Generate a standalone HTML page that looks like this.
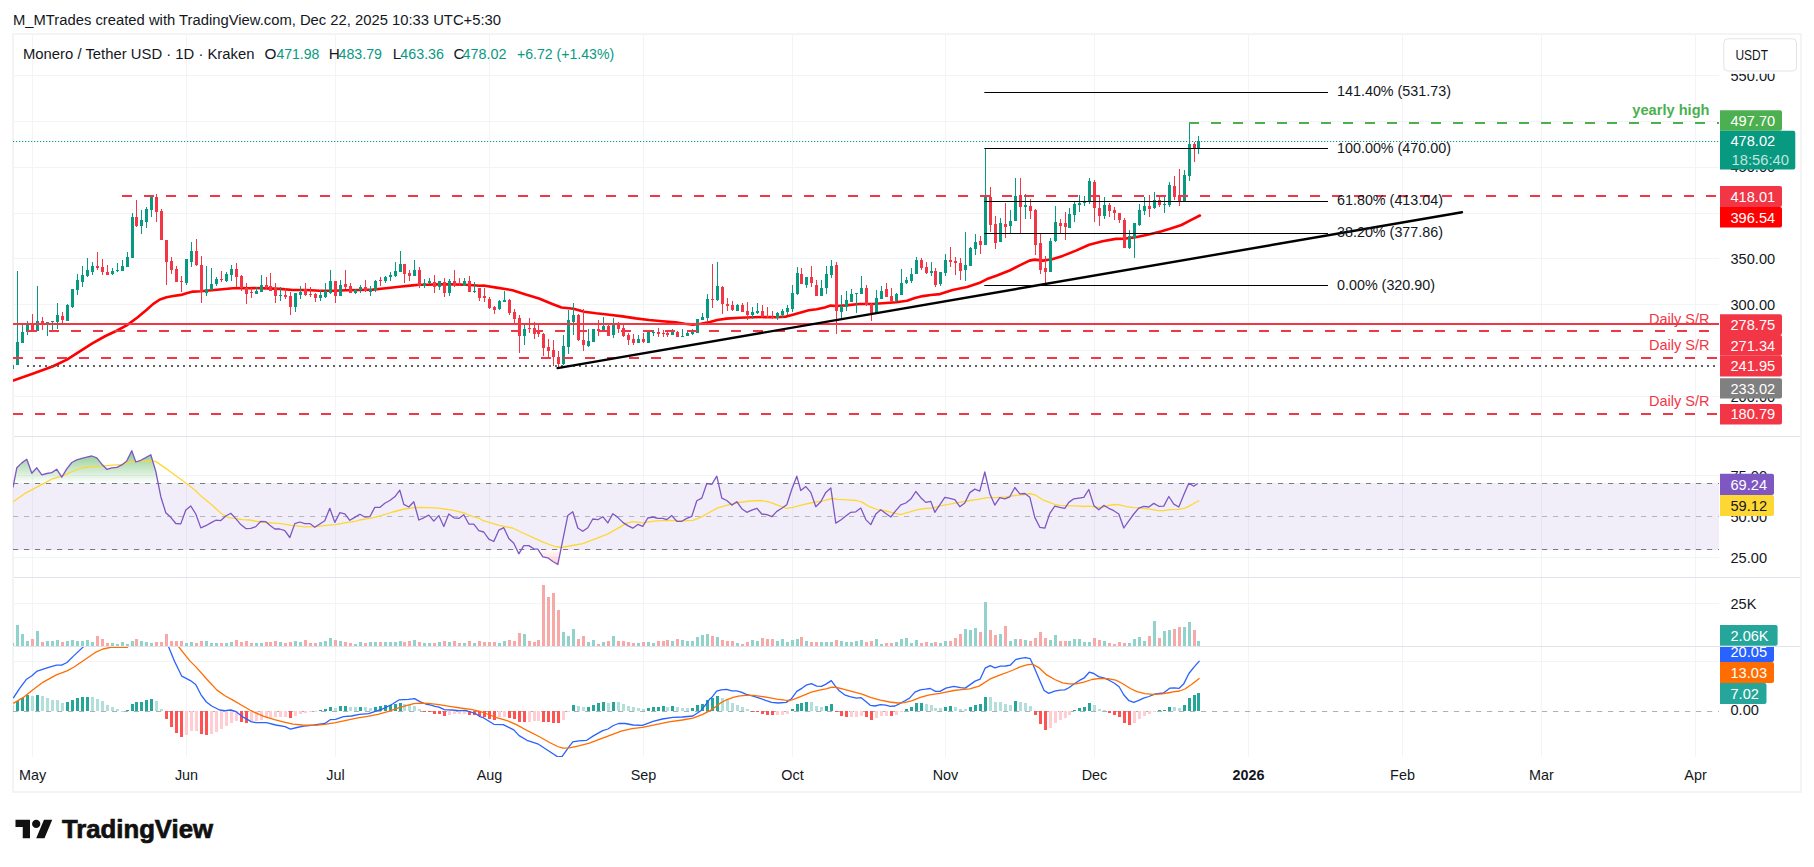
<!DOCTYPE html><html><head><meta charset="utf-8"><title>chart</title><style>html,body{margin:0;padding:0;background:#fff}body{width:1814px;height:867px;overflow:hidden}</style></head><body><svg width="1814" height="867" viewBox="0 0 1814 867" style="display:block">
<defs>
<linearGradient id="gob" gradientUnits="userSpaceOnUse" x1="0" y1="434.3" x2="0" y2="483.5"><stop offset="0" stop-color="#4caf50" stop-opacity="1"/><stop offset="1" stop-color="#4caf50" stop-opacity="0"/></linearGradient>
<linearGradient id="gos" gradientUnits="userSpaceOnUse" x1="0" y1="549.4" x2="0" y2="598.7"><stop offset="0" stop-color="#ff5252" stop-opacity="0"/><stop offset="1" stop-color="#ff5252" stop-opacity="1"/></linearGradient>
<clipPath id="cpP"><rect x="13" y="35" width="1706" height="401"/></clipPath>
<clipPath id="cpR"><rect x="13" y="437" width="1706" height="140"/></clipPath>
<clipPath id="cpV"><rect x="13" y="578" width="1706" height="68"/></clipPath>
<clipPath id="cpM"><rect x="13" y="647" width="1706" height="110"/></clipPath>
<clipPath id="cpOB"><rect x="0" y="430" width="1814" height="53.5"/></clipPath>
<clipPath id="cpOS"><rect x="0" y="549.4" width="1814" height="40"/></clipPath>
<clipPath id="cpAx"><rect x="1719" y="647" width="90" height="110"/></clipPath>
</defs>
<rect width="1814" height="867" fill="#fff"/>
<rect x="13" y="34" width="1788" height="758" fill="none" stroke="#f4f4f4" stroke-width="2"/>
<rect x="32" y="34" width="1" height="723" fill="#f2f4f5"/>
<rect x="186" y="34" width="1" height="723" fill="#f2f4f5"/>
<rect x="335" y="34" width="1" height="723" fill="#f2f4f5"/>
<rect x="489" y="34" width="1" height="723" fill="#f2f4f5"/>
<rect x="643" y="34" width="1" height="723" fill="#f2f4f5"/>
<rect x="792" y="34" width="1" height="723" fill="#f2f4f5"/>
<rect x="945" y="34" width="1" height="723" fill="#f2f4f5"/>
<rect x="1094" y="34" width="1" height="723" fill="#f2f4f5"/>
<rect x="1248" y="34" width="1" height="723" fill="#f2f4f5"/>
<rect x="1402" y="34" width="1" height="723" fill="#f2f4f5"/>
<rect x="1541" y="34" width="1" height="723" fill="#f2f4f5"/>
<rect x="1695" y="34" width="1" height="723" fill="#f2f4f5"/>
<rect x="13" y="75" width="1706" height="1" fill="#f2f4f5"/>
<rect x="13" y="121" width="1706" height="1" fill="#f2f4f5"/>
<rect x="13" y="167" width="1706" height="1" fill="#f2f4f5"/>
<rect x="13" y="213" width="1706" height="1" fill="#f2f4f5"/>
<rect x="13" y="258" width="1706" height="1" fill="#f2f4f5"/>
<rect x="13" y="304" width="1706" height="1" fill="#f2f4f5"/>
<rect x="13" y="350" width="1706" height="1" fill="#f2f4f5"/>
<rect x="13" y="396" width="1706" height="1" fill="#f2f4f5"/>
<rect x="13" y="475" width="1706" height="1" fill="#f2f4f5"/>
<rect x="13" y="557" width="1706" height="1" fill="#f2f4f5"/>
<rect x="13" y="603" width="1706" height="1" fill="#f2f4f5"/>
<rect x="13" y="661" width="1706" height="1" fill="#f2f4f5"/>
<rect x="13" y="483" width="1706" height="67" fill="#7e57c2" fill-opacity="0.1"/>
<path d="M13.0,487.4 L16.8,467.8 L21.8,462.9 L26.8,459.3 L31.8,473.3 L36.8,467.8 L41.8,474.9 L46.8,473.5 L51.8,472.6 L56.8,469.3 L61.8,477.2 L66.8,468.9 L71.8,462.5 L76.8,459.9 L81.8,458.3 L86.8,457.2 L91.8,456.0 L96.8,457.9 L101.8,464.2 L106.8,469.3 L111.8,467.8 L116.8,467.3 L121.8,464.9 L126.8,460.9 L131.8,450.7 L135.8,462.0 L140.8,460.3 L145.8,457.6 L150.8,454.7 L155.8,471.5 L160.8,496.7 L165.8,512.7 L170.8,517.3 L175.8,523.5 L180.8,523.9 L185.8,510.0 L190.8,506.0 L195.8,514.0 L200.8,527.9 L205.8,525.7 L210.8,522.9 L215.8,520.2 L220.8,520.6 L225.8,516.0 L230.8,513.3 L235.8,518.6 L240.8,524.6 L245.8,528.6 L250.8,528.4 L255.8,526.6 L260.8,521.3 L265.8,521.7 L269.8,525.3 L274.8,529.0 L279.8,529.0 L284.8,530.6 L289.8,537.5 L294.8,523.6 L299.8,522.0 L304.8,523.6 L309.8,523.6 L314.8,527.3 L319.8,524.0 L324.8,520.7 L329.8,508.3 L334.8,522.4 L339.8,512.7 L344.8,513.8 L349.8,520.3 L354.8,517.4 L359.8,514.3 L364.8,517.0 L369.8,516.7 L374.8,507.4 L379.8,507.4 L384.8,503.2 L389.8,500.5 L394.8,496.8 L399.8,490.2 L403.8,504.4 L408.8,507.0 L413.8,501.7 L418.8,520.0 L423.8,517.8 L428.8,515.1 L433.8,521.1 L438.8,515.6 L443.8,526.6 L448.8,514.0 L453.8,517.8 L458.8,518.4 L463.8,514.7 L468.8,524.0 L473.8,524.2 L478.8,530.6 L483.8,532.0 L488.8,539.2 L493.8,541.5 L498.8,530.2 L503.8,527.7 L508.8,538.6 L513.8,543.2 L518.8,553.8 L523.8,545.6 L528.8,545.6 L533.8,548.8 L537.8,549.2 L542.8,556.8 L547.8,557.8 L552.8,561.5 L557.8,564.5 L562.8,539.9 L567.8,515.6 L572.8,511.8 L577.8,528.0 L582.8,531.3 L587.8,527.7 L592.8,519.0 L597.8,519.7 L602.8,516.7 L607.8,522.9 L612.8,513.8 L617.8,517.4 L622.8,522.4 L627.8,525.6 L632.8,528.2 L637.8,524.4 L642.8,526.4 L647.8,518.0 L652.8,517.0 L657.8,518.3 L662.8,518.3 L666.8,519.6 L671.8,515.6 L676.8,521.3 L681.8,521.3 L686.8,518.4 L691.8,516.3 L696.8,500.8 L701.8,498.1 L706.8,483.5 L711.8,484.4 L716.8,476.2 L721.8,498.1 L726.8,500.5 L731.8,505.1 L736.8,501.7 L741.8,508.7 L746.8,512.3 L751.8,510.1 L756.8,508.3 L761.8,514.0 L766.8,514.7 L771.8,516.7 L776.8,511.4 L781.8,508.3 L786.8,504.8 L791.8,489.2 L796.8,476.2 L800.8,490.6 L805.8,486.6 L810.8,492.4 L815.8,506.7 L820.8,501.7 L825.8,492.4 L830.8,487.9 L835.8,523.1 L840.8,520.0 L845.8,516.0 L850.8,512.3 L855.8,511.8 L860.8,508.1 L865.8,519.6 L870.8,524.6 L875.8,514.0 L880.8,509.7 L885.8,513.4 L890.8,517.0 L895.8,510.7 L900.8,504.8 L905.8,503.0 L910.8,499.1 L915.8,491.5 L920.8,497.7 L925.8,502.4 L930.8,501.4 L934.8,512.3 L939.8,504.8 L944.8,497.4 L949.8,498.4 L954.8,499.7 L959.8,506.7 L964.8,503.0 L969.8,492.6 L974.8,489.1 L979.8,491.1 L984.8,472.0 L989.8,493.7 L994.8,505.1 L999.8,497.7 L1004.8,498.8 L1009.8,496.8 L1014.8,487.5 L1019.8,493.9 L1024.8,493.5 L1029.8,497.2 L1034.8,517.4 L1039.8,527.3 L1044.8,528.2 L1049.8,513.4 L1054.8,506.1 L1059.8,507.4 L1064.8,508.3 L1068.8,502.4 L1073.8,498.8 L1078.8,498.1 L1083.8,497.4 L1088.8,489.5 L1093.8,505.4 L1098.8,509.8 L1103.8,505.4 L1108.8,508.3 L1113.8,510.7 L1118.8,514.0 L1123.8,528.0 L1128.8,520.9 L1133.8,514.0 L1138.8,508.1 L1143.8,506.3 L1148.8,507.0 L1153.8,503.4 L1158.8,506.3 L1163.8,506.1 L1168.8,496.5 L1173.8,504.1 L1178.8,507.0 L1183.8,494.8 L1188.8,483.3 L1193.8,486.2 L1197.8,483.5 L1197.8,483.5 L13.0,483.5 Z" fill="url(#gob)" clip-path="url(#cpOB)"/>
<path d="M13.0,487.4 L16.8,467.8 L21.8,462.9 L26.8,459.3 L31.8,473.3 L36.8,467.8 L41.8,474.9 L46.8,473.5 L51.8,472.6 L56.8,469.3 L61.8,477.2 L66.8,468.9 L71.8,462.5 L76.8,459.9 L81.8,458.3 L86.8,457.2 L91.8,456.0 L96.8,457.9 L101.8,464.2 L106.8,469.3 L111.8,467.8 L116.8,467.3 L121.8,464.9 L126.8,460.9 L131.8,450.7 L135.8,462.0 L140.8,460.3 L145.8,457.6 L150.8,454.7 L155.8,471.5 L160.8,496.7 L165.8,512.7 L170.8,517.3 L175.8,523.5 L180.8,523.9 L185.8,510.0 L190.8,506.0 L195.8,514.0 L200.8,527.9 L205.8,525.7 L210.8,522.9 L215.8,520.2 L220.8,520.6 L225.8,516.0 L230.8,513.3 L235.8,518.6 L240.8,524.6 L245.8,528.6 L250.8,528.4 L255.8,526.6 L260.8,521.3 L265.8,521.7 L269.8,525.3 L274.8,529.0 L279.8,529.0 L284.8,530.6 L289.8,537.5 L294.8,523.6 L299.8,522.0 L304.8,523.6 L309.8,523.6 L314.8,527.3 L319.8,524.0 L324.8,520.7 L329.8,508.3 L334.8,522.4 L339.8,512.7 L344.8,513.8 L349.8,520.3 L354.8,517.4 L359.8,514.3 L364.8,517.0 L369.8,516.7 L374.8,507.4 L379.8,507.4 L384.8,503.2 L389.8,500.5 L394.8,496.8 L399.8,490.2 L403.8,504.4 L408.8,507.0 L413.8,501.7 L418.8,520.0 L423.8,517.8 L428.8,515.1 L433.8,521.1 L438.8,515.6 L443.8,526.6 L448.8,514.0 L453.8,517.8 L458.8,518.4 L463.8,514.7 L468.8,524.0 L473.8,524.2 L478.8,530.6 L483.8,532.0 L488.8,539.2 L493.8,541.5 L498.8,530.2 L503.8,527.7 L508.8,538.6 L513.8,543.2 L518.8,553.8 L523.8,545.6 L528.8,545.6 L533.8,548.8 L537.8,549.2 L542.8,556.8 L547.8,557.8 L552.8,561.5 L557.8,564.5 L562.8,539.9 L567.8,515.6 L572.8,511.8 L577.8,528.0 L582.8,531.3 L587.8,527.7 L592.8,519.0 L597.8,519.7 L602.8,516.7 L607.8,522.9 L612.8,513.8 L617.8,517.4 L622.8,522.4 L627.8,525.6 L632.8,528.2 L637.8,524.4 L642.8,526.4 L647.8,518.0 L652.8,517.0 L657.8,518.3 L662.8,518.3 L666.8,519.6 L671.8,515.6 L676.8,521.3 L681.8,521.3 L686.8,518.4 L691.8,516.3 L696.8,500.8 L701.8,498.1 L706.8,483.5 L711.8,484.4 L716.8,476.2 L721.8,498.1 L726.8,500.5 L731.8,505.1 L736.8,501.7 L741.8,508.7 L746.8,512.3 L751.8,510.1 L756.8,508.3 L761.8,514.0 L766.8,514.7 L771.8,516.7 L776.8,511.4 L781.8,508.3 L786.8,504.8 L791.8,489.2 L796.8,476.2 L800.8,490.6 L805.8,486.6 L810.8,492.4 L815.8,506.7 L820.8,501.7 L825.8,492.4 L830.8,487.9 L835.8,523.1 L840.8,520.0 L845.8,516.0 L850.8,512.3 L855.8,511.8 L860.8,508.1 L865.8,519.6 L870.8,524.6 L875.8,514.0 L880.8,509.7 L885.8,513.4 L890.8,517.0 L895.8,510.7 L900.8,504.8 L905.8,503.0 L910.8,499.1 L915.8,491.5 L920.8,497.7 L925.8,502.4 L930.8,501.4 L934.8,512.3 L939.8,504.8 L944.8,497.4 L949.8,498.4 L954.8,499.7 L959.8,506.7 L964.8,503.0 L969.8,492.6 L974.8,489.1 L979.8,491.1 L984.8,472.0 L989.8,493.7 L994.8,505.1 L999.8,497.7 L1004.8,498.8 L1009.8,496.8 L1014.8,487.5 L1019.8,493.9 L1024.8,493.5 L1029.8,497.2 L1034.8,517.4 L1039.8,527.3 L1044.8,528.2 L1049.8,513.4 L1054.8,506.1 L1059.8,507.4 L1064.8,508.3 L1068.8,502.4 L1073.8,498.8 L1078.8,498.1 L1083.8,497.4 L1088.8,489.5 L1093.8,505.4 L1098.8,509.8 L1103.8,505.4 L1108.8,508.3 L1113.8,510.7 L1118.8,514.0 L1123.8,528.0 L1128.8,520.9 L1133.8,514.0 L1138.8,508.1 L1143.8,506.3 L1148.8,507.0 L1153.8,503.4 L1158.8,506.3 L1163.8,506.1 L1168.8,496.5 L1173.8,504.1 L1178.8,507.0 L1183.8,494.8 L1188.8,483.3 L1193.8,486.2 L1197.8,483.5 L1197.8,549.4 L13.0,549.4 Z" fill="url(#gos)" clip-path="url(#cpOS)"/>
<line x1="13" y1="483.5" x2="1719" y2="483.5" stroke="#787b86" stroke-opacity="1" stroke-width="1" stroke-dasharray="5.2 5.8"/>
<line x1="13" y1="516.5" x2="1719" y2="516.5" stroke="#787b86" stroke-opacity="0.5" stroke-width="1" stroke-dasharray="5.2 5.8"/>
<line x1="13" y1="549.5" x2="1719" y2="549.5" stroke="#787b86" stroke-opacity="1" stroke-width="1" stroke-dasharray="5.2 5.8"/>
<polyline points="13.3,501.8 25.9,492.8 32.6,489.4 42.5,484.1 52.5,478.8 62.4,475.8 72.4,471.5 81.6,468.0 92.3,466.6 102.9,466.2 112.2,465.2 121.4,464.6 132.1,461.6 142.7,461.2 152.0,460.9 155.9,461.6 166.6,468.9 177.2,476.8 186.6,483.5 195.7,490.8 201.0,496.1 211.7,504.7 220.9,513.3 227.6,517.3 235.5,518.6 242.2,519.6 250.0,520.0 259.9,522.0 270.5,522.9 281.1,523.7 293.1,525.7 305.0,526.9 315.6,526.6 326.2,525.3 335.5,524.7 346.1,522.7 355.4,521.3 359.4,520.0 370.0,518.4 380.6,515.8 392.6,512.0 404.5,509.0 416.5,507.4 428.4,507.7 439.0,508.1 444.3,509.0 452.3,510.1 464.2,513.0 472.2,516.3 480.0,518.7 483.3,520.7 499.2,525.3 512.5,528.0 523.1,533.0 533.7,537.9 544.3,542.6 554.9,546.5 561.5,547.5 572.2,545.5 582.8,543.6 596.0,538.6 608.0,533.9 617.3,528.6 626.6,523.1 633.2,521.6 642.5,522.9 655.7,520.9 669.0,520.4 682.3,520.9 692.9,520.3 700.8,517.4 710.0,512.0 717.2,508.1 726.5,505.4 738.5,502.5 750.4,501.0 761.0,500.5 770.3,502.4 779.6,505.8 786.2,508.3 792.9,507.4 802.2,504.8 812.8,502.5 823.4,500.8 832.0,498.5 838.0,499.4 847.3,499.8 856.6,500.5 861.9,502.1 868.5,506.1 876.5,509.4 885.7,511.0 892.4,512.7 900.3,514.7 908.3,512.3 917.6,509.7 925.5,508.5 933.5,507.8 940.0,505.8 945.9,504.8 956.5,502.8 967.1,501.0 977.8,499.4 987.0,497.7 996.3,497.7 1005.6,496.8 1014.9,495.5 1022.9,494.8 1029.5,493.5 1034.8,494.8 1042.8,499.8 1049.4,502.4 1054.7,504.5 1060.0,505.4 1068.0,505.8 1075.9,505.8 1083.9,506.5 1089.2,506.1 1097.2,507.4 1102.5,507.4 1109.1,505.4 1114.4,504.5 1119.7,504.8 1126.4,506.7 1134.3,507.7 1142.3,508.3 1150.2,509.1 1158.2,510.7 1163.5,510.7 1170.0,509.7 1178.3,509.4 1184.9,508.1 1191.5,504.8 1199.2,500.5" fill="none" stroke="#fdd835" stroke-width="1.3" stroke-linejoin="round" clip-path="url(#cpR)"/>
<polyline points="13.0,487.4 16.8,467.8 21.8,462.9 26.8,459.3 31.8,473.3 36.8,467.8 41.8,474.9 46.8,473.5 51.8,472.6 56.8,469.3 61.8,477.2 66.8,468.9 71.8,462.5 76.8,459.9 81.8,458.3 86.8,457.2 91.8,456.0 96.8,457.9 101.8,464.2 106.8,469.3 111.8,467.8 116.8,467.3 121.8,464.9 126.8,460.9 131.8,450.7 135.8,462.0 140.8,460.3 145.8,457.6 150.8,454.7 155.8,471.5 160.8,496.7 165.8,512.7 170.8,517.3 175.8,523.5 180.8,523.9 185.8,510.0 190.8,506.0 195.8,514.0 200.8,527.9 205.8,525.7 210.8,522.9 215.8,520.2 220.8,520.6 225.8,516.0 230.8,513.3 235.8,518.6 240.8,524.6 245.8,528.6 250.8,528.4 255.8,526.6 260.8,521.3 265.8,521.7 269.8,525.3 274.8,529.0 279.8,529.0 284.8,530.6 289.8,537.5 294.8,523.6 299.8,522.0 304.8,523.6 309.8,523.6 314.8,527.3 319.8,524.0 324.8,520.7 329.8,508.3 334.8,522.4 339.8,512.7 344.8,513.8 349.8,520.3 354.8,517.4 359.8,514.3 364.8,517.0 369.8,516.7 374.8,507.4 379.8,507.4 384.8,503.2 389.8,500.5 394.8,496.8 399.8,490.2 403.8,504.4 408.8,507.0 413.8,501.7 418.8,520.0 423.8,517.8 428.8,515.1 433.8,521.1 438.8,515.6 443.8,526.6 448.8,514.0 453.8,517.8 458.8,518.4 463.8,514.7 468.8,524.0 473.8,524.2 478.8,530.6 483.8,532.0 488.8,539.2 493.8,541.5 498.8,530.2 503.8,527.7 508.8,538.6 513.8,543.2 518.8,553.8 523.8,545.6 528.8,545.6 533.8,548.8 537.8,549.2 542.8,556.8 547.8,557.8 552.8,561.5 557.8,564.5 562.8,539.9 567.8,515.6 572.8,511.8 577.8,528.0 582.8,531.3 587.8,527.7 592.8,519.0 597.8,519.7 602.8,516.7 607.8,522.9 612.8,513.8 617.8,517.4 622.8,522.4 627.8,525.6 632.8,528.2 637.8,524.4 642.8,526.4 647.8,518.0 652.8,517.0 657.8,518.3 662.8,518.3 666.8,519.6 671.8,515.6 676.8,521.3 681.8,521.3 686.8,518.4 691.8,516.3 696.8,500.8 701.8,498.1 706.8,483.5 711.8,484.4 716.8,476.2 721.8,498.1 726.8,500.5 731.8,505.1 736.8,501.7 741.8,508.7 746.8,512.3 751.8,510.1 756.8,508.3 761.8,514.0 766.8,514.7 771.8,516.7 776.8,511.4 781.8,508.3 786.8,504.8 791.8,489.2 796.8,476.2 800.8,490.6 805.8,486.6 810.8,492.4 815.8,506.7 820.8,501.7 825.8,492.4 830.8,487.9 835.8,523.1 840.8,520.0 845.8,516.0 850.8,512.3 855.8,511.8 860.8,508.1 865.8,519.6 870.8,524.6 875.8,514.0 880.8,509.7 885.8,513.4 890.8,517.0 895.8,510.7 900.8,504.8 905.8,503.0 910.8,499.1 915.8,491.5 920.8,497.7 925.8,502.4 930.8,501.4 934.8,512.3 939.8,504.8 944.8,497.4 949.8,498.4 954.8,499.7 959.8,506.7 964.8,503.0 969.8,492.6 974.8,489.1 979.8,491.1 984.8,472.0 989.8,493.7 994.8,505.1 999.8,497.7 1004.8,498.8 1009.8,496.8 1014.8,487.5 1019.8,493.9 1024.8,493.5 1029.8,497.2 1034.8,517.4 1039.8,527.3 1044.8,528.2 1049.8,513.4 1054.8,506.1 1059.8,507.4 1064.8,508.3 1068.8,502.4 1073.8,498.8 1078.8,498.1 1083.8,497.4 1088.8,489.5 1093.8,505.4 1098.8,509.8 1103.8,505.4 1108.8,508.3 1113.8,510.7 1118.8,514.0 1123.8,528.0 1128.8,520.9 1133.8,514.0 1138.8,508.1 1143.8,506.3 1148.8,507.0 1153.8,503.4 1158.8,506.3 1163.8,506.1 1168.8,496.5 1173.8,504.1 1178.8,507.0 1183.8,494.8 1188.8,483.3 1193.8,486.2 1197.8,483.5" fill="none" stroke="#7e57c2" stroke-width="1.3" stroke-linejoin="round" clip-path="url(#cpR)"/>
<rect x="11" y="643.0" width="3" height="3.0" fill="#92d2cc" clip-path="url(#cpV)"/>
<rect x="16" y="625.0" width="3" height="21.0" fill="#92d2cc" clip-path="url(#cpV)"/>
<rect x="21" y="634.0" width="3" height="12.0" fill="#92d2cc" clip-path="url(#cpV)"/>
<rect x="26" y="641.0" width="3" height="5.0" fill="#92d2cc" clip-path="url(#cpV)"/>
<rect x="31" y="639.0" width="3" height="7.0" fill="#f7a9a7" clip-path="url(#cpV)"/>
<rect x="36" y="631.0" width="3" height="15.0" fill="#92d2cc" clip-path="url(#cpV)"/>
<rect x="41" y="642.0" width="3" height="4.0" fill="#f7a9a7" clip-path="url(#cpV)"/>
<rect x="46" y="641.0" width="3" height="5.0" fill="#92d2cc" clip-path="url(#cpV)"/>
<rect x="51" y="641.0" width="3" height="5.0" fill="#92d2cc" clip-path="url(#cpV)"/>
<rect x="56" y="640.0" width="3" height="6.0" fill="#92d2cc" clip-path="url(#cpV)"/>
<rect x="61" y="642.0" width="3" height="4.0" fill="#f7a9a7" clip-path="url(#cpV)"/>
<rect x="66" y="641.0" width="3" height="5.0" fill="#92d2cc" clip-path="url(#cpV)"/>
<rect x="71" y="640.0" width="3" height="6.0" fill="#92d2cc" clip-path="url(#cpV)"/>
<rect x="76" y="641.0" width="3" height="5.0" fill="#92d2cc" clip-path="url(#cpV)"/>
<rect x="81" y="641.0" width="3" height="5.0" fill="#92d2cc" clip-path="url(#cpV)"/>
<rect x="86" y="640.0" width="3" height="6.0" fill="#92d2cc" clip-path="url(#cpV)"/>
<rect x="91" y="642.0" width="3" height="4.0" fill="#92d2cc" clip-path="url(#cpV)"/>
<rect x="96" y="636.0" width="3" height="10.0" fill="#f7a9a7" clip-path="url(#cpV)"/>
<rect x="101" y="639.0" width="3" height="7.0" fill="#f7a9a7" clip-path="url(#cpV)"/>
<rect x="106" y="643.0" width="3" height="3.0" fill="#f7a9a7" clip-path="url(#cpV)"/>
<rect x="111" y="643.0" width="3" height="3.0" fill="#92d2cc" clip-path="url(#cpV)"/>
<rect x="116" y="644.0" width="3" height="2.0" fill="#92d2cc" clip-path="url(#cpV)"/>
<rect x="121" y="642.0" width="3" height="4.0" fill="#92d2cc" clip-path="url(#cpV)"/>
<rect x="126" y="644.0" width="3" height="2.0" fill="#92d2cc" clip-path="url(#cpV)"/>
<rect x="131" y="641.0" width="3" height="5.0" fill="#92d2cc" clip-path="url(#cpV)"/>
<rect x="135" y="639.0" width="3" height="7.0" fill="#f7a9a7" clip-path="url(#cpV)"/>
<rect x="140" y="641.0" width="3" height="5.0" fill="#92d2cc" clip-path="url(#cpV)"/>
<rect x="145" y="642.0" width="3" height="4.0" fill="#92d2cc" clip-path="url(#cpV)"/>
<rect x="150" y="643.0" width="3" height="3.0" fill="#92d2cc" clip-path="url(#cpV)"/>
<rect x="155" y="642.0" width="3" height="4.0" fill="#f7a9a7" clip-path="url(#cpV)"/>
<rect x="160" y="642.0" width="3" height="4.0" fill="#f7a9a7" clip-path="url(#cpV)"/>
<rect x="165" y="634.0" width="3" height="12.0" fill="#f7a9a7" clip-path="url(#cpV)"/>
<rect x="170" y="641.0" width="3" height="5.0" fill="#f7a9a7" clip-path="url(#cpV)"/>
<rect x="175" y="641.0" width="3" height="5.0" fill="#f7a9a7" clip-path="url(#cpV)"/>
<rect x="180" y="641.0" width="3" height="5.0" fill="#f7a9a7" clip-path="url(#cpV)"/>
<rect x="185" y="643.0" width="3" height="3.0" fill="#92d2cc" clip-path="url(#cpV)"/>
<rect x="190" y="642.0" width="3" height="4.0" fill="#92d2cc" clip-path="url(#cpV)"/>
<rect x="195" y="643.0" width="3" height="3.0" fill="#f7a9a7" clip-path="url(#cpV)"/>
<rect x="200" y="641.0" width="3" height="5.0" fill="#f7a9a7" clip-path="url(#cpV)"/>
<rect x="205" y="641.0" width="3" height="5.0" fill="#92d2cc" clip-path="url(#cpV)"/>
<rect x="210" y="643.0" width="3" height="3.0" fill="#92d2cc" clip-path="url(#cpV)"/>
<rect x="215" y="643.0" width="3" height="3.0" fill="#92d2cc" clip-path="url(#cpV)"/>
<rect x="220" y="643.0" width="3" height="3.0" fill="#f7a9a7" clip-path="url(#cpV)"/>
<rect x="225" y="643.0" width="3" height="3.0" fill="#92d2cc" clip-path="url(#cpV)"/>
<rect x="230" y="642.0" width="3" height="4.0" fill="#92d2cc" clip-path="url(#cpV)"/>
<rect x="235" y="640.0" width="3" height="6.0" fill="#f7a9a7" clip-path="url(#cpV)"/>
<rect x="240" y="642.0" width="3" height="4.0" fill="#f7a9a7" clip-path="url(#cpV)"/>
<rect x="245" y="641.0" width="3" height="5.0" fill="#f7a9a7" clip-path="url(#cpV)"/>
<rect x="250" y="643.0" width="3" height="3.0" fill="#f7a9a7" clip-path="url(#cpV)"/>
<rect x="255" y="643.0" width="3" height="3.0" fill="#92d2cc" clip-path="url(#cpV)"/>
<rect x="260" y="643.0" width="3" height="3.0" fill="#92d2cc" clip-path="url(#cpV)"/>
<rect x="265" y="642.0" width="3" height="4.0" fill="#f7a9a7" clip-path="url(#cpV)"/>
<rect x="269" y="642.0" width="3" height="4.0" fill="#f7a9a7" clip-path="url(#cpV)"/>
<rect x="274" y="641.0" width="3" height="5.0" fill="#f7a9a7" clip-path="url(#cpV)"/>
<rect x="279" y="642.0" width="3" height="4.0" fill="#92d2cc" clip-path="url(#cpV)"/>
<rect x="284" y="643.0" width="3" height="3.0" fill="#f7a9a7" clip-path="url(#cpV)"/>
<rect x="289" y="642.0" width="3" height="4.0" fill="#f7a9a7" clip-path="url(#cpV)"/>
<rect x="294" y="641.0" width="3" height="5.0" fill="#92d2cc" clip-path="url(#cpV)"/>
<rect x="299" y="642.0" width="3" height="4.0" fill="#92d2cc" clip-path="url(#cpV)"/>
<rect x="304" y="640.0" width="3" height="6.0" fill="#f7a9a7" clip-path="url(#cpV)"/>
<rect x="309" y="643.0" width="3" height="3.0" fill="#f7a9a7" clip-path="url(#cpV)"/>
<rect x="314" y="643.0" width="3" height="3.0" fill="#f7a9a7" clip-path="url(#cpV)"/>
<rect x="319" y="642.0" width="3" height="4.0" fill="#92d2cc" clip-path="url(#cpV)"/>
<rect x="324" y="641.0" width="3" height="5.0" fill="#92d2cc" clip-path="url(#cpV)"/>
<rect x="329" y="638.0" width="3" height="8.0" fill="#92d2cc" clip-path="url(#cpV)"/>
<rect x="334" y="640.0" width="3" height="6.0" fill="#f7a9a7" clip-path="url(#cpV)"/>
<rect x="339" y="641.0" width="3" height="5.0" fill="#92d2cc" clip-path="url(#cpV)"/>
<rect x="344" y="642.0" width="3" height="4.0" fill="#f7a9a7" clip-path="url(#cpV)"/>
<rect x="349" y="643.0" width="3" height="3.0" fill="#f7a9a7" clip-path="url(#cpV)"/>
<rect x="354" y="644.0" width="3" height="2.0" fill="#92d2cc" clip-path="url(#cpV)"/>
<rect x="359" y="642.0" width="3" height="4.0" fill="#92d2cc" clip-path="url(#cpV)"/>
<rect x="364" y="643.0" width="3" height="3.0" fill="#f7a9a7" clip-path="url(#cpV)"/>
<rect x="369" y="642.0" width="3" height="4.0" fill="#92d2cc" clip-path="url(#cpV)"/>
<rect x="374" y="642.0" width="3" height="4.0" fill="#92d2cc" clip-path="url(#cpV)"/>
<rect x="379" y="642.0" width="3" height="4.0" fill="#f7a9a7" clip-path="url(#cpV)"/>
<rect x="384" y="642.0" width="3" height="4.0" fill="#92d2cc" clip-path="url(#cpV)"/>
<rect x="389" y="642.0" width="3" height="4.0" fill="#92d2cc" clip-path="url(#cpV)"/>
<rect x="394" y="642.0" width="3" height="4.0" fill="#92d2cc" clip-path="url(#cpV)"/>
<rect x="399" y="641.0" width="3" height="5.0" fill="#92d2cc" clip-path="url(#cpV)"/>
<rect x="403" y="642.0" width="3" height="4.0" fill="#f7a9a7" clip-path="url(#cpV)"/>
<rect x="408" y="641.0" width="3" height="5.0" fill="#f7a9a7" clip-path="url(#cpV)"/>
<rect x="413" y="640.0" width="3" height="6.0" fill="#92d2cc" clip-path="url(#cpV)"/>
<rect x="418" y="642.0" width="3" height="4.0" fill="#f7a9a7" clip-path="url(#cpV)"/>
<rect x="423" y="643.0" width="3" height="3.0" fill="#92d2cc" clip-path="url(#cpV)"/>
<rect x="428" y="643.0" width="3" height="3.0" fill="#92d2cc" clip-path="url(#cpV)"/>
<rect x="433" y="643.0" width="3" height="3.0" fill="#f7a9a7" clip-path="url(#cpV)"/>
<rect x="438" y="642.0" width="3" height="4.0" fill="#92d2cc" clip-path="url(#cpV)"/>
<rect x="443" y="641.0" width="3" height="5.0" fill="#f7a9a7" clip-path="url(#cpV)"/>
<rect x="448" y="642.0" width="3" height="4.0" fill="#92d2cc" clip-path="url(#cpV)"/>
<rect x="453" y="641.0" width="3" height="5.0" fill="#f7a9a7" clip-path="url(#cpV)"/>
<rect x="458" y="643.0" width="3" height="3.0" fill="#f7a9a7" clip-path="url(#cpV)"/>
<rect x="463" y="643.0" width="3" height="3.0" fill="#92d2cc" clip-path="url(#cpV)"/>
<rect x="468" y="641.0" width="3" height="5.0" fill="#f7a9a7" clip-path="url(#cpV)"/>
<rect x="473" y="643.0" width="3" height="3.0" fill="#92d2cc" clip-path="url(#cpV)"/>
<rect x="478" y="641.0" width="3" height="5.0" fill="#f7a9a7" clip-path="url(#cpV)"/>
<rect x="483" y="642.0" width="3" height="4.0" fill="#f7a9a7" clip-path="url(#cpV)"/>
<rect x="488" y="642.0" width="3" height="4.0" fill="#f7a9a7" clip-path="url(#cpV)"/>
<rect x="493" y="642.0" width="3" height="4.0" fill="#f7a9a7" clip-path="url(#cpV)"/>
<rect x="498" y="643.0" width="3" height="3.0" fill="#92d2cc" clip-path="url(#cpV)"/>
<rect x="503" y="641.0" width="3" height="5.0" fill="#92d2cc" clip-path="url(#cpV)"/>
<rect x="508" y="640.0" width="3" height="6.0" fill="#f7a9a7" clip-path="url(#cpV)"/>
<rect x="513" y="641.0" width="3" height="5.0" fill="#f7a9a7" clip-path="url(#cpV)"/>
<rect x="518" y="633.0" width="3" height="13.0" fill="#f7a9a7" clip-path="url(#cpV)"/>
<rect x="523" y="634.0" width="3" height="12.0" fill="#92d2cc" clip-path="url(#cpV)"/>
<rect x="528" y="641.0" width="3" height="5.0" fill="#f7a9a7" clip-path="url(#cpV)"/>
<rect x="533" y="642.0" width="3" height="4.0" fill="#f7a9a7" clip-path="url(#cpV)"/>
<rect x="537" y="640.0" width="3" height="6.0" fill="#f7a9a7" clip-path="url(#cpV)"/>
<rect x="542" y="585.0" width="3" height="61.0" fill="#f7a9a7" clip-path="url(#cpV)"/>
<rect x="547" y="597.0" width="3" height="49.0" fill="#f7a9a7" clip-path="url(#cpV)"/>
<rect x="552" y="593.0" width="3" height="53.0" fill="#f7a9a7" clip-path="url(#cpV)"/>
<rect x="557" y="610.0" width="3" height="36.0" fill="#f7a9a7" clip-path="url(#cpV)"/>
<rect x="562" y="632.0" width="3" height="14.0" fill="#92d2cc" clip-path="url(#cpV)"/>
<rect x="567" y="636.0" width="3" height="10.0" fill="#92d2cc" clip-path="url(#cpV)"/>
<rect x="572" y="629.0" width="3" height="17.0" fill="#92d2cc" clip-path="url(#cpV)"/>
<rect x="577" y="639.0" width="3" height="7.0" fill="#f7a9a7" clip-path="url(#cpV)"/>
<rect x="582" y="636.0" width="3" height="10.0" fill="#f7a9a7" clip-path="url(#cpV)"/>
<rect x="587" y="642.0" width="3" height="4.0" fill="#92d2cc" clip-path="url(#cpV)"/>
<rect x="592" y="640.0" width="3" height="6.0" fill="#92d2cc" clip-path="url(#cpV)"/>
<rect x="597" y="644.0" width="3" height="2.0" fill="#f7a9a7" clip-path="url(#cpV)"/>
<rect x="602" y="642.0" width="3" height="4.0" fill="#92d2cc" clip-path="url(#cpV)"/>
<rect x="607" y="641.0" width="3" height="5.0" fill="#f7a9a7" clip-path="url(#cpV)"/>
<rect x="612" y="636.0" width="3" height="10.0" fill="#92d2cc" clip-path="url(#cpV)"/>
<rect x="617" y="641.0" width="3" height="5.0" fill="#f7a9a7" clip-path="url(#cpV)"/>
<rect x="622" y="641.0" width="3" height="5.0" fill="#f7a9a7" clip-path="url(#cpV)"/>
<rect x="627" y="642.0" width="3" height="4.0" fill="#f7a9a7" clip-path="url(#cpV)"/>
<rect x="632" y="643.0" width="3" height="3.0" fill="#f7a9a7" clip-path="url(#cpV)"/>
<rect x="637" y="643.0" width="3" height="3.0" fill="#92d2cc" clip-path="url(#cpV)"/>
<rect x="642" y="642.0" width="3" height="4.0" fill="#f7a9a7" clip-path="url(#cpV)"/>
<rect x="647" y="642.0" width="3" height="4.0" fill="#92d2cc" clip-path="url(#cpV)"/>
<rect x="652" y="643.0" width="3" height="3.0" fill="#92d2cc" clip-path="url(#cpV)"/>
<rect x="657" y="641.0" width="3" height="5.0" fill="#f7a9a7" clip-path="url(#cpV)"/>
<rect x="662" y="641.0" width="3" height="5.0" fill="#f7a9a7" clip-path="url(#cpV)"/>
<rect x="666" y="640.0" width="3" height="6.0" fill="#f7a9a7" clip-path="url(#cpV)"/>
<rect x="671" y="641.0" width="3" height="5.0" fill="#92d2cc" clip-path="url(#cpV)"/>
<rect x="676" y="639.0" width="3" height="7.0" fill="#f7a9a7" clip-path="url(#cpV)"/>
<rect x="681" y="640.0" width="3" height="6.0" fill="#92d2cc" clip-path="url(#cpV)"/>
<rect x="686" y="641.0" width="3" height="5.0" fill="#92d2cc" clip-path="url(#cpV)"/>
<rect x="691" y="641.0" width="3" height="5.0" fill="#92d2cc" clip-path="url(#cpV)"/>
<rect x="696" y="637.0" width="3" height="9.0" fill="#92d2cc" clip-path="url(#cpV)"/>
<rect x="701" y="635.0" width="3" height="11.0" fill="#92d2cc" clip-path="url(#cpV)"/>
<rect x="706" y="634.0" width="3" height="12.0" fill="#92d2cc" clip-path="url(#cpV)"/>
<rect x="711" y="636.0" width="3" height="10.0" fill="#f7a9a7" clip-path="url(#cpV)"/>
<rect x="716" y="637.0" width="3" height="9.0" fill="#92d2cc" clip-path="url(#cpV)"/>
<rect x="721" y="640.0" width="3" height="6.0" fill="#f7a9a7" clip-path="url(#cpV)"/>
<rect x="726" y="641.0" width="3" height="5.0" fill="#f7a9a7" clip-path="url(#cpV)"/>
<rect x="731" y="641.0" width="3" height="5.0" fill="#f7a9a7" clip-path="url(#cpV)"/>
<rect x="736" y="643.0" width="3" height="3.0" fill="#92d2cc" clip-path="url(#cpV)"/>
<rect x="741" y="644.0" width="3" height="2.0" fill="#f7a9a7" clip-path="url(#cpV)"/>
<rect x="746" y="642.0" width="3" height="4.0" fill="#f7a9a7" clip-path="url(#cpV)"/>
<rect x="751" y="640.0" width="3" height="6.0" fill="#92d2cc" clip-path="url(#cpV)"/>
<rect x="756" y="641.0" width="3" height="5.0" fill="#92d2cc" clip-path="url(#cpV)"/>
<rect x="761" y="638.0" width="3" height="8.0" fill="#f7a9a7" clip-path="url(#cpV)"/>
<rect x="766" y="639.0" width="3" height="7.0" fill="#f7a9a7" clip-path="url(#cpV)"/>
<rect x="771" y="639.0" width="3" height="7.0" fill="#f7a9a7" clip-path="url(#cpV)"/>
<rect x="776" y="641.0" width="3" height="5.0" fill="#92d2cc" clip-path="url(#cpV)"/>
<rect x="781" y="639.0" width="3" height="7.0" fill="#92d2cc" clip-path="url(#cpV)"/>
<rect x="786" y="642.0" width="3" height="4.0" fill="#92d2cc" clip-path="url(#cpV)"/>
<rect x="791" y="640.0" width="3" height="6.0" fill="#92d2cc" clip-path="url(#cpV)"/>
<rect x="796" y="639.0" width="3" height="7.0" fill="#92d2cc" clip-path="url(#cpV)"/>
<rect x="800" y="637.0" width="3" height="9.0" fill="#f7a9a7" clip-path="url(#cpV)"/>
<rect x="805" y="641.0" width="3" height="5.0" fill="#92d2cc" clip-path="url(#cpV)"/>
<rect x="810" y="642.0" width="3" height="4.0" fill="#f7a9a7" clip-path="url(#cpV)"/>
<rect x="815" y="642.0" width="3" height="4.0" fill="#f7a9a7" clip-path="url(#cpV)"/>
<rect x="820" y="642.0" width="3" height="4.0" fill="#92d2cc" clip-path="url(#cpV)"/>
<rect x="825" y="642.0" width="3" height="4.0" fill="#92d2cc" clip-path="url(#cpV)"/>
<rect x="830" y="642.0" width="3" height="4.0" fill="#92d2cc" clip-path="url(#cpV)"/>
<rect x="835" y="640.0" width="3" height="6.0" fill="#f7a9a7" clip-path="url(#cpV)"/>
<rect x="840" y="641.0" width="3" height="5.0" fill="#92d2cc" clip-path="url(#cpV)"/>
<rect x="845" y="642.0" width="3" height="4.0" fill="#92d2cc" clip-path="url(#cpV)"/>
<rect x="850" y="642.0" width="3" height="4.0" fill="#92d2cc" clip-path="url(#cpV)"/>
<rect x="855" y="641.0" width="3" height="5.0" fill="#92d2cc" clip-path="url(#cpV)"/>
<rect x="860" y="640.0" width="3" height="6.0" fill="#92d2cc" clip-path="url(#cpV)"/>
<rect x="865" y="642.0" width="3" height="4.0" fill="#f7a9a7" clip-path="url(#cpV)"/>
<rect x="870" y="641.0" width="3" height="5.0" fill="#f7a9a7" clip-path="url(#cpV)"/>
<rect x="875" y="639.0" width="3" height="7.0" fill="#92d2cc" clip-path="url(#cpV)"/>
<rect x="880" y="644.0" width="3" height="2.0" fill="#92d2cc" clip-path="url(#cpV)"/>
<rect x="885" y="643.0" width="3" height="3.0" fill="#f7a9a7" clip-path="url(#cpV)"/>
<rect x="890" y="643.0" width="3" height="3.0" fill="#f7a9a7" clip-path="url(#cpV)"/>
<rect x="895" y="642.0" width="3" height="4.0" fill="#92d2cc" clip-path="url(#cpV)"/>
<rect x="900" y="639.0" width="3" height="7.0" fill="#92d2cc" clip-path="url(#cpV)"/>
<rect x="905" y="638.0" width="3" height="8.0" fill="#92d2cc" clip-path="url(#cpV)"/>
<rect x="910" y="643.0" width="3" height="3.0" fill="#92d2cc" clip-path="url(#cpV)"/>
<rect x="915" y="640.0" width="3" height="6.0" fill="#92d2cc" clip-path="url(#cpV)"/>
<rect x="920" y="643.0" width="3" height="3.0" fill="#f7a9a7" clip-path="url(#cpV)"/>
<rect x="925" y="642.0" width="3" height="4.0" fill="#f7a9a7" clip-path="url(#cpV)"/>
<rect x="930" y="643.0" width="3" height="3.0" fill="#92d2cc" clip-path="url(#cpV)"/>
<rect x="934" y="642.0" width="3" height="4.0" fill="#f7a9a7" clip-path="url(#cpV)"/>
<rect x="939" y="643.0" width="3" height="3.0" fill="#92d2cc" clip-path="url(#cpV)"/>
<rect x="944" y="641.0" width="3" height="5.0" fill="#92d2cc" clip-path="url(#cpV)"/>
<rect x="949" y="641.0" width="3" height="5.0" fill="#f7a9a7" clip-path="url(#cpV)"/>
<rect x="954" y="638.0" width="3" height="8.0" fill="#f7a9a7" clip-path="url(#cpV)"/>
<rect x="959" y="634.0" width="3" height="12.0" fill="#f7a9a7" clip-path="url(#cpV)"/>
<rect x="964" y="629.0" width="3" height="17.0" fill="#92d2cc" clip-path="url(#cpV)"/>
<rect x="969" y="630.0" width="3" height="16.0" fill="#92d2cc" clip-path="url(#cpV)"/>
<rect x="974" y="628.0" width="3" height="18.0" fill="#92d2cc" clip-path="url(#cpV)"/>
<rect x="979" y="632.0" width="3" height="14.0" fill="#f7a9a7" clip-path="url(#cpV)"/>
<rect x="984" y="602.0" width="3" height="44.0" fill="#92d2cc" clip-path="url(#cpV)"/>
<rect x="989" y="630.0" width="3" height="16.0" fill="#f7a9a7" clip-path="url(#cpV)"/>
<rect x="994" y="635.0" width="3" height="11.0" fill="#f7a9a7" clip-path="url(#cpV)"/>
<rect x="999" y="634.0" width="3" height="12.0" fill="#92d2cc" clip-path="url(#cpV)"/>
<rect x="1004" y="626.0" width="3" height="20.0" fill="#f7a9a7" clip-path="url(#cpV)"/>
<rect x="1009" y="641.0" width="3" height="5.0" fill="#92d2cc" clip-path="url(#cpV)"/>
<rect x="1014" y="639.0" width="3" height="7.0" fill="#92d2cc" clip-path="url(#cpV)"/>
<rect x="1019" y="639.0" width="3" height="7.0" fill="#f7a9a7" clip-path="url(#cpV)"/>
<rect x="1024" y="640.0" width="3" height="6.0" fill="#92d2cc" clip-path="url(#cpV)"/>
<rect x="1029" y="641.0" width="3" height="5.0" fill="#f7a9a7" clip-path="url(#cpV)"/>
<rect x="1034" y="638.0" width="3" height="8.0" fill="#f7a9a7" clip-path="url(#cpV)"/>
<rect x="1039" y="632.0" width="3" height="14.0" fill="#f7a9a7" clip-path="url(#cpV)"/>
<rect x="1044" y="638.0" width="3" height="8.0" fill="#f7a9a7" clip-path="url(#cpV)"/>
<rect x="1049" y="640.0" width="3" height="6.0" fill="#92d2cc" clip-path="url(#cpV)"/>
<rect x="1054" y="635.0" width="3" height="11.0" fill="#92d2cc" clip-path="url(#cpV)"/>
<rect x="1059" y="641.0" width="3" height="5.0" fill="#f7a9a7" clip-path="url(#cpV)"/>
<rect x="1064" y="641.0" width="3" height="5.0" fill="#f7a9a7" clip-path="url(#cpV)"/>
<rect x="1068" y="641.0" width="3" height="5.0" fill="#92d2cc" clip-path="url(#cpV)"/>
<rect x="1073" y="639.0" width="3" height="7.0" fill="#92d2cc" clip-path="url(#cpV)"/>
<rect x="1078" y="639.0" width="3" height="7.0" fill="#92d2cc" clip-path="url(#cpV)"/>
<rect x="1083" y="642.0" width="3" height="4.0" fill="#92d2cc" clip-path="url(#cpV)"/>
<rect x="1088" y="642.0" width="3" height="4.0" fill="#92d2cc" clip-path="url(#cpV)"/>
<rect x="1093" y="638.0" width="3" height="8.0" fill="#f7a9a7" clip-path="url(#cpV)"/>
<rect x="1098" y="640.0" width="3" height="6.0" fill="#f7a9a7" clip-path="url(#cpV)"/>
<rect x="1103" y="641.0" width="3" height="5.0" fill="#92d2cc" clip-path="url(#cpV)"/>
<rect x="1108" y="643.0" width="3" height="3.0" fill="#f7a9a7" clip-path="url(#cpV)"/>
<rect x="1113" y="644.0" width="3" height="2.0" fill="#f7a9a7" clip-path="url(#cpV)"/>
<rect x="1118" y="642.0" width="3" height="4.0" fill="#f7a9a7" clip-path="url(#cpV)"/>
<rect x="1123" y="643.0" width="3" height="3.0" fill="#f7a9a7" clip-path="url(#cpV)"/>
<rect x="1128" y="643.0" width="3" height="3.0" fill="#92d2cc" clip-path="url(#cpV)"/>
<rect x="1133" y="639.0" width="3" height="7.0" fill="#92d2cc" clip-path="url(#cpV)"/>
<rect x="1138" y="637.0" width="3" height="9.0" fill="#92d2cc" clip-path="url(#cpV)"/>
<rect x="1143" y="641.0" width="3" height="5.0" fill="#92d2cc" clip-path="url(#cpV)"/>
<rect x="1148" y="636.0" width="3" height="10.0" fill="#f7a9a7" clip-path="url(#cpV)"/>
<rect x="1153" y="621.0" width="3" height="25.0" fill="#92d2cc" clip-path="url(#cpV)"/>
<rect x="1158" y="638.0" width="3" height="8.0" fill="#f7a9a7" clip-path="url(#cpV)"/>
<rect x="1163" y="631.0" width="3" height="15.0" fill="#92d2cc" clip-path="url(#cpV)"/>
<rect x="1168" y="630.0" width="3" height="16.0" fill="#92d2cc" clip-path="url(#cpV)"/>
<rect x="1173" y="629.0" width="3" height="17.0" fill="#f7a9a7" clip-path="url(#cpV)"/>
<rect x="1178" y="627.0" width="3" height="19.0" fill="#f7a9a7" clip-path="url(#cpV)"/>
<rect x="1183" y="627.0" width="3" height="19.0" fill="#92d2cc" clip-path="url(#cpV)"/>
<rect x="1188" y="622.0" width="3" height="24.0" fill="#92d2cc" clip-path="url(#cpV)"/>
<rect x="1193" y="630.0" width="3" height="16.0" fill="#f7a9a7" clip-path="url(#cpV)"/>
<rect x="1197" y="641.0" width="3" height="5.0" fill="#92d2cc" clip-path="url(#cpV)"/>
<line x1="13" y1="711.5" x2="1719" y2="711.5" stroke="#787b86" stroke-opacity="0.6" stroke-width="1" stroke-dasharray="5.2 5.8"/>
<rect x="11" y="705.0" width="3" height="6.0" fill="#b2dfdb" clip-path="url(#cpM)"/>
<rect x="16" y="701.0" width="3" height="10.0" fill="#26a69a" clip-path="url(#cpM)"/>
<rect x="21" y="698.0" width="3" height="13.0" fill="#26a69a" clip-path="url(#cpM)"/>
<rect x="26" y="695.0" width="3" height="16.0" fill="#26a69a" clip-path="url(#cpM)"/>
<rect x="31" y="696.0" width="3" height="15.0" fill="#b2dfdb" clip-path="url(#cpM)"/>
<rect x="36" y="695.0" width="3" height="16.0" fill="#26a69a" clip-path="url(#cpM)"/>
<rect x="41" y="696.0" width="3" height="15.0" fill="#b2dfdb" clip-path="url(#cpM)"/>
<rect x="46" y="698.0" width="3" height="13.0" fill="#b2dfdb" clip-path="url(#cpM)"/>
<rect x="51" y="700.0" width="3" height="11.0" fill="#b2dfdb" clip-path="url(#cpM)"/>
<rect x="56" y="700.0" width="3" height="11.0" fill="#b2dfdb" clip-path="url(#cpM)"/>
<rect x="61" y="703.0" width="3" height="8.0" fill="#b2dfdb" clip-path="url(#cpM)"/>
<rect x="66" y="702.0" width="3" height="9.0" fill="#26a69a" clip-path="url(#cpM)"/>
<rect x="71" y="700.0" width="3" height="11.0" fill="#26a69a" clip-path="url(#cpM)"/>
<rect x="76" y="698.0" width="3" height="13.0" fill="#26a69a" clip-path="url(#cpM)"/>
<rect x="81" y="697.0" width="3" height="14.0" fill="#26a69a" clip-path="url(#cpM)"/>
<rect x="86" y="697.0" width="3" height="14.0" fill="#26a69a" clip-path="url(#cpM)"/>
<rect x="91" y="697.0" width="3" height="14.0" fill="#b2dfdb" clip-path="url(#cpM)"/>
<rect x="96" y="699.0" width="3" height="12.0" fill="#b2dfdb" clip-path="url(#cpM)"/>
<rect x="101" y="701.0" width="3" height="10.0" fill="#b2dfdb" clip-path="url(#cpM)"/>
<rect x="106" y="705.0" width="3" height="6.0" fill="#b2dfdb" clip-path="url(#cpM)"/>
<rect x="111" y="707.0" width="3" height="4.0" fill="#b2dfdb" clip-path="url(#cpM)"/>
<rect x="116" y="709.0" width="3" height="2.0" fill="#b2dfdb" clip-path="url(#cpM)"/>
<rect x="121" y="711.0" width="3" height="1.0" fill="#b2dfdb" clip-path="url(#cpM)"/>
<rect x="126" y="710.0" width="3" height="1.0" fill="#26a69a" clip-path="url(#cpM)"/>
<rect x="131" y="704.0" width="3" height="7.0" fill="#26a69a" clip-path="url(#cpM)"/>
<rect x="135" y="702.0" width="3" height="9.0" fill="#26a69a" clip-path="url(#cpM)"/>
<rect x="140" y="702.0" width="3" height="9.0" fill="#26a69a" clip-path="url(#cpM)"/>
<rect x="145" y="700.0" width="3" height="11.0" fill="#26a69a" clip-path="url(#cpM)"/>
<rect x="150" y="699.0" width="3" height="12.0" fill="#26a69a" clip-path="url(#cpM)"/>
<rect x="155" y="701.0" width="3" height="10.0" fill="#b2dfdb" clip-path="url(#cpM)"/>
<rect x="160" y="709.0" width="3" height="2.0" fill="#b2dfdb" clip-path="url(#cpM)"/>
<rect x="165" y="711.0" width="3" height="8.0" fill="#ff5252" clip-path="url(#cpM)"/>
<rect x="170" y="711.0" width="3" height="16.0" fill="#ff5252" clip-path="url(#cpM)"/>
<rect x="175" y="711.0" width="3" height="22.0" fill="#ff5252" clip-path="url(#cpM)"/>
<rect x="180" y="711.0" width="3" height="26.0" fill="#ff5252" clip-path="url(#cpM)"/>
<rect x="185" y="711.0" width="3" height="24.0" fill="#ffcdd2" clip-path="url(#cpM)"/>
<rect x="190" y="711.0" width="3" height="20.0" fill="#ffcdd2" clip-path="url(#cpM)"/>
<rect x="195" y="711.0" width="3" height="20.0" fill="#ffcdd2" clip-path="url(#cpM)"/>
<rect x="200" y="711.0" width="3" height="23.0" fill="#ff5252" clip-path="url(#cpM)"/>
<rect x="205" y="711.0" width="3" height="24.0" fill="#ff5252" clip-path="url(#cpM)"/>
<rect x="210" y="711.0" width="3" height="23.0" fill="#ffcdd2" clip-path="url(#cpM)"/>
<rect x="215" y="711.0" width="3" height="21.0" fill="#ffcdd2" clip-path="url(#cpM)"/>
<rect x="220" y="711.0" width="3" height="18.0" fill="#ffcdd2" clip-path="url(#cpM)"/>
<rect x="225" y="711.0" width="3" height="15.0" fill="#ffcdd2" clip-path="url(#cpM)"/>
<rect x="230" y="711.0" width="3" height="12.0" fill="#ffcdd2" clip-path="url(#cpM)"/>
<rect x="235" y="711.0" width="3" height="10.0" fill="#ffcdd2" clip-path="url(#cpM)"/>
<rect x="240" y="711.0" width="3" height="11.0" fill="#ff5252" clip-path="url(#cpM)"/>
<rect x="245" y="711.0" width="3" height="12.0" fill="#ff5252" clip-path="url(#cpM)"/>
<rect x="250" y="711.0" width="3" height="11.0" fill="#ffcdd2" clip-path="url(#cpM)"/>
<rect x="255" y="711.0" width="3" height="10.0" fill="#ffcdd2" clip-path="url(#cpM)"/>
<rect x="260" y="711.0" width="3" height="9.0" fill="#ffcdd2" clip-path="url(#cpM)"/>
<rect x="265" y="711.0" width="3" height="7.0" fill="#ffcdd2" clip-path="url(#cpM)"/>
<rect x="269" y="711.0" width="3" height="7.0" fill="#ffcdd2" clip-path="url(#cpM)"/>
<rect x="274" y="711.0" width="3" height="6.0" fill="#ffcdd2" clip-path="url(#cpM)"/>
<rect x="279" y="711.0" width="3" height="6.0" fill="#ffcdd2" clip-path="url(#cpM)"/>
<rect x="284" y="711.0" width="3" height="6.0" fill="#ffcdd2" clip-path="url(#cpM)"/>
<rect x="289" y="711.0" width="3" height="7.0" fill="#ff5252" clip-path="url(#cpM)"/>
<rect x="294" y="711.0" width="3" height="5.0" fill="#ffcdd2" clip-path="url(#cpM)"/>
<rect x="299" y="711.0" width="3" height="3.0" fill="#ffcdd2" clip-path="url(#cpM)"/>
<rect x="304" y="711.0" width="3" height="2.0" fill="#ffcdd2" clip-path="url(#cpM)"/>
<rect x="309" y="711.0" width="3" height="1.0" fill="#ffcdd2" clip-path="url(#cpM)"/>
<rect x="314" y="711.0" width="3" height="1.0" fill="#ffcdd2" clip-path="url(#cpM)"/>
<rect x="319" y="710.0" width="3" height="1.0" fill="#26a69a" clip-path="url(#cpM)"/>
<rect x="324" y="709.0" width="3" height="2.0" fill="#26a69a" clip-path="url(#cpM)"/>
<rect x="329" y="707.0" width="3" height="4.0" fill="#26a69a" clip-path="url(#cpM)"/>
<rect x="334" y="708.0" width="3" height="3.0" fill="#b2dfdb" clip-path="url(#cpM)"/>
<rect x="339" y="706.0" width="3" height="5.0" fill="#26a69a" clip-path="url(#cpM)"/>
<rect x="344" y="706.0" width="3" height="5.0" fill="#26a69a" clip-path="url(#cpM)"/>
<rect x="349" y="707.0" width="3" height="4.0" fill="#b2dfdb" clip-path="url(#cpM)"/>
<rect x="354" y="707.0" width="3" height="4.0" fill="#b2dfdb" clip-path="url(#cpM)"/>
<rect x="359" y="707.0" width="3" height="4.0" fill="#26a69a" clip-path="url(#cpM)"/>
<rect x="364" y="707.0" width="3" height="4.0" fill="#b2dfdb" clip-path="url(#cpM)"/>
<rect x="369" y="708.0" width="3" height="3.0" fill="#b2dfdb" clip-path="url(#cpM)"/>
<rect x="374" y="707.0" width="3" height="4.0" fill="#26a69a" clip-path="url(#cpM)"/>
<rect x="379" y="706.0" width="3" height="5.0" fill="#26a69a" clip-path="url(#cpM)"/>
<rect x="384" y="705.0" width="3" height="6.0" fill="#26a69a" clip-path="url(#cpM)"/>
<rect x="389" y="705.0" width="3" height="6.0" fill="#26a69a" clip-path="url(#cpM)"/>
<rect x="394" y="704.0" width="3" height="7.0" fill="#26a69a" clip-path="url(#cpM)"/>
<rect x="399" y="703.0" width="3" height="8.0" fill="#26a69a" clip-path="url(#cpM)"/>
<rect x="403" y="704.0" width="3" height="7.0" fill="#b2dfdb" clip-path="url(#cpM)"/>
<rect x="408" y="705.0" width="3" height="6.0" fill="#b2dfdb" clip-path="url(#cpM)"/>
<rect x="413" y="706.0" width="3" height="5.0" fill="#b2dfdb" clip-path="url(#cpM)"/>
<rect x="418" y="709.0" width="3" height="2.0" fill="#b2dfdb" clip-path="url(#cpM)"/>
<rect x="423" y="711.0" width="3" height="1.0" fill="#ff5252" clip-path="url(#cpM)"/>
<rect x="428" y="711.0" width="3" height="1.0" fill="#ff5252" clip-path="url(#cpM)"/>
<rect x="433" y="711.0" width="3" height="3.0" fill="#ff5252" clip-path="url(#cpM)"/>
<rect x="438" y="711.0" width="3" height="3.0" fill="#ff5252" clip-path="url(#cpM)"/>
<rect x="443" y="711.0" width="3" height="5.0" fill="#ff5252" clip-path="url(#cpM)"/>
<rect x="448" y="711.0" width="3" height="4.0" fill="#ffcdd2" clip-path="url(#cpM)"/>
<rect x="453" y="711.0" width="3" height="3.0" fill="#ffcdd2" clip-path="url(#cpM)"/>
<rect x="458" y="711.0" width="3" height="3.0" fill="#ffcdd2" clip-path="url(#cpM)"/>
<rect x="463" y="711.0" width="3" height="3.0" fill="#ffcdd2" clip-path="url(#cpM)"/>
<rect x="468" y="711.0" width="3" height="4.0" fill="#ff5252" clip-path="url(#cpM)"/>
<rect x="473" y="711.0" width="3" height="4.0" fill="#ff5252" clip-path="url(#cpM)"/>
<rect x="478" y="711.0" width="3" height="5.0" fill="#ff5252" clip-path="url(#cpM)"/>
<rect x="483" y="711.0" width="3" height="6.0" fill="#ff5252" clip-path="url(#cpM)"/>
<rect x="488" y="711.0" width="3" height="8.0" fill="#ff5252" clip-path="url(#cpM)"/>
<rect x="493" y="711.0" width="3" height="9.0" fill="#ff5252" clip-path="url(#cpM)"/>
<rect x="498" y="711.0" width="3" height="6.0" fill="#ffcdd2" clip-path="url(#cpM)"/>
<rect x="503" y="711.0" width="3" height="6.0" fill="#ffcdd2" clip-path="url(#cpM)"/>
<rect x="508" y="711.0" width="3" height="7.0" fill="#ff5252" clip-path="url(#cpM)"/>
<rect x="513" y="711.0" width="3" height="8.0" fill="#ff5252" clip-path="url(#cpM)"/>
<rect x="518" y="711.0" width="3" height="11.0" fill="#ff5252" clip-path="url(#cpM)"/>
<rect x="523" y="711.0" width="3" height="11.0" fill="#ff5252" clip-path="url(#cpM)"/>
<rect x="528" y="711.0" width="3" height="11.0" fill="#ffcdd2" clip-path="url(#cpM)"/>
<rect x="533" y="711.0" width="3" height="10.0" fill="#ffcdd2" clip-path="url(#cpM)"/>
<rect x="537" y="711.0" width="3" height="10.0" fill="#ffcdd2" clip-path="url(#cpM)"/>
<rect x="542" y="711.0" width="3" height="11.0" fill="#ff5252" clip-path="url(#cpM)"/>
<rect x="547" y="711.0" width="3" height="11.0" fill="#ff5252" clip-path="url(#cpM)"/>
<rect x="552" y="711.0" width="3" height="12.0" fill="#ff5252" clip-path="url(#cpM)"/>
<rect x="557" y="711.0" width="3" height="12.0" fill="#ff5252" clip-path="url(#cpM)"/>
<rect x="562" y="711.0" width="3" height="9.0" fill="#ffcdd2" clip-path="url(#cpM)"/>
<rect x="567" y="711.0" width="3" height="1.0" fill="#ffcdd2" clip-path="url(#cpM)"/>
<rect x="572" y="705.0" width="3" height="6.0" fill="#26a69a" clip-path="url(#cpM)"/>
<rect x="577" y="706.0" width="3" height="5.0" fill="#b2dfdb" clip-path="url(#cpM)"/>
<rect x="582" y="707.0" width="3" height="4.0" fill="#b2dfdb" clip-path="url(#cpM)"/>
<rect x="587" y="707.0" width="3" height="4.0" fill="#26a69a" clip-path="url(#cpM)"/>
<rect x="592" y="705.0" width="3" height="6.0" fill="#26a69a" clip-path="url(#cpM)"/>
<rect x="597" y="703.0" width="3" height="8.0" fill="#26a69a" clip-path="url(#cpM)"/>
<rect x="602" y="702.0" width="3" height="9.0" fill="#26a69a" clip-path="url(#cpM)"/>
<rect x="607" y="703.0" width="3" height="8.0" fill="#b2dfdb" clip-path="url(#cpM)"/>
<rect x="612" y="702.0" width="3" height="9.0" fill="#26a69a" clip-path="url(#cpM)"/>
<rect x="617" y="702.0" width="3" height="9.0" fill="#b2dfdb" clip-path="url(#cpM)"/>
<rect x="622" y="704.0" width="3" height="7.0" fill="#b2dfdb" clip-path="url(#cpM)"/>
<rect x="627" y="706.0" width="3" height="5.0" fill="#b2dfdb" clip-path="url(#cpM)"/>
<rect x="632" y="707.0" width="3" height="4.0" fill="#b2dfdb" clip-path="url(#cpM)"/>
<rect x="637" y="708.0" width="3" height="3.0" fill="#b2dfdb" clip-path="url(#cpM)"/>
<rect x="642" y="709.0" width="3" height="2.0" fill="#b2dfdb" clip-path="url(#cpM)"/>
<rect x="647" y="708.0" width="3" height="3.0" fill="#26a69a" clip-path="url(#cpM)"/>
<rect x="652" y="707.0" width="3" height="4.0" fill="#26a69a" clip-path="url(#cpM)"/>
<rect x="657" y="707.0" width="3" height="4.0" fill="#26a69a" clip-path="url(#cpM)"/>
<rect x="662" y="706.0" width="3" height="5.0" fill="#26a69a" clip-path="url(#cpM)"/>
<rect x="666" y="707.0" width="3" height="4.0" fill="#b2dfdb" clip-path="url(#cpM)"/>
<rect x="671" y="706.0" width="3" height="5.0" fill="#26a69a" clip-path="url(#cpM)"/>
<rect x="676" y="707.0" width="3" height="4.0" fill="#b2dfdb" clip-path="url(#cpM)"/>
<rect x="681" y="708.0" width="3" height="3.0" fill="#b2dfdb" clip-path="url(#cpM)"/>
<rect x="686" y="708.0" width="3" height="3.0" fill="#b2dfdb" clip-path="url(#cpM)"/>
<rect x="691" y="708.0" width="3" height="3.0" fill="#26a69a" clip-path="url(#cpM)"/>
<rect x="696" y="705.0" width="3" height="6.0" fill="#26a69a" clip-path="url(#cpM)"/>
<rect x="701" y="704.0" width="3" height="7.0" fill="#26a69a" clip-path="url(#cpM)"/>
<rect x="706" y="700.0" width="3" height="11.0" fill="#26a69a" clip-path="url(#cpM)"/>
<rect x="711" y="698.0" width="3" height="13.0" fill="#26a69a" clip-path="url(#cpM)"/>
<rect x="716" y="696.0" width="3" height="15.0" fill="#26a69a" clip-path="url(#cpM)"/>
<rect x="721" y="698.0" width="3" height="13.0" fill="#b2dfdb" clip-path="url(#cpM)"/>
<rect x="726" y="700.0" width="3" height="11.0" fill="#b2dfdb" clip-path="url(#cpM)"/>
<rect x="731" y="703.0" width="3" height="8.0" fill="#b2dfdb" clip-path="url(#cpM)"/>
<rect x="736" y="705.0" width="3" height="6.0" fill="#b2dfdb" clip-path="url(#cpM)"/>
<rect x="741" y="707.0" width="3" height="4.0" fill="#b2dfdb" clip-path="url(#cpM)"/>
<rect x="746" y="709.0" width="3" height="2.0" fill="#b2dfdb" clip-path="url(#cpM)"/>
<rect x="751" y="711.0" width="3" height="1.0" fill="#ff5252" clip-path="url(#cpM)"/>
<rect x="756" y="711.0" width="3" height="1.0" fill="#ff5252" clip-path="url(#cpM)"/>
<rect x="761" y="711.0" width="3" height="3.0" fill="#ff5252" clip-path="url(#cpM)"/>
<rect x="766" y="711.0" width="3" height="4.0" fill="#ff5252" clip-path="url(#cpM)"/>
<rect x="771" y="711.0" width="3" height="4.0" fill="#ff5252" clip-path="url(#cpM)"/>
<rect x="776" y="711.0" width="3" height="4.0" fill="#ffcdd2" clip-path="url(#cpM)"/>
<rect x="781" y="711.0" width="3" height="4.0" fill="#ffcdd2" clip-path="url(#cpM)"/>
<rect x="786" y="711.0" width="3" height="3.0" fill="#ffcdd2" clip-path="url(#cpM)"/>
<rect x="791" y="709.0" width="3" height="2.0" fill="#26a69a" clip-path="url(#cpM)"/>
<rect x="796" y="704.0" width="3" height="7.0" fill="#26a69a" clip-path="url(#cpM)"/>
<rect x="800" y="703.0" width="3" height="8.0" fill="#26a69a" clip-path="url(#cpM)"/>
<rect x="805" y="702.0" width="3" height="9.0" fill="#26a69a" clip-path="url(#cpM)"/>
<rect x="810" y="702.0" width="3" height="9.0" fill="#b2dfdb" clip-path="url(#cpM)"/>
<rect x="815" y="706.0" width="3" height="5.0" fill="#b2dfdb" clip-path="url(#cpM)"/>
<rect x="820" y="707.0" width="3" height="4.0" fill="#b2dfdb" clip-path="url(#cpM)"/>
<rect x="825" y="706.0" width="3" height="5.0" fill="#26a69a" clip-path="url(#cpM)"/>
<rect x="830" y="704.0" width="3" height="7.0" fill="#26a69a" clip-path="url(#cpM)"/>
<rect x="835" y="711.0" width="3" height="1.0" fill="#ff5252" clip-path="url(#cpM)"/>
<rect x="840" y="711.0" width="3" height="5.0" fill="#ff5252" clip-path="url(#cpM)"/>
<rect x="845" y="711.0" width="3" height="6.0" fill="#ff5252" clip-path="url(#cpM)"/>
<rect x="850" y="711.0" width="3" height="6.0" fill="#ffcdd2" clip-path="url(#cpM)"/>
<rect x="855" y="711.0" width="3" height="6.0" fill="#ffcdd2" clip-path="url(#cpM)"/>
<rect x="860" y="711.0" width="3" height="5.0" fill="#ffcdd2" clip-path="url(#cpM)"/>
<rect x="865" y="711.0" width="3" height="6.0" fill="#ff5252" clip-path="url(#cpM)"/>
<rect x="870" y="711.0" width="3" height="9.0" fill="#ff5252" clip-path="url(#cpM)"/>
<rect x="875" y="711.0" width="3" height="7.0" fill="#ffcdd2" clip-path="url(#cpM)"/>
<rect x="880" y="711.0" width="3" height="5.0" fill="#ffcdd2" clip-path="url(#cpM)"/>
<rect x="885" y="711.0" width="3" height="5.0" fill="#ffcdd2" clip-path="url(#cpM)"/>
<rect x="890" y="711.0" width="3" height="5.0" fill="#ff5252" clip-path="url(#cpM)"/>
<rect x="895" y="711.0" width="3" height="4.0" fill="#ffcdd2" clip-path="url(#cpM)"/>
<rect x="900" y="711.0" width="3" height="1.0" fill="#ffcdd2" clip-path="url(#cpM)"/>
<rect x="905" y="709.0" width="3" height="2.0" fill="#26a69a" clip-path="url(#cpM)"/>
<rect x="910" y="707.0" width="3" height="4.0" fill="#26a69a" clip-path="url(#cpM)"/>
<rect x="915" y="703.0" width="3" height="8.0" fill="#26a69a" clip-path="url(#cpM)"/>
<rect x="920" y="703.0" width="3" height="8.0" fill="#26a69a" clip-path="url(#cpM)"/>
<rect x="925" y="704.0" width="3" height="7.0" fill="#b2dfdb" clip-path="url(#cpM)"/>
<rect x="930" y="705.0" width="3" height="6.0" fill="#b2dfdb" clip-path="url(#cpM)"/>
<rect x="934" y="708.0" width="3" height="3.0" fill="#b2dfdb" clip-path="url(#cpM)"/>
<rect x="939" y="708.0" width="3" height="3.0" fill="#b2dfdb" clip-path="url(#cpM)"/>
<rect x="944" y="707.0" width="3" height="4.0" fill="#26a69a" clip-path="url(#cpM)"/>
<rect x="949" y="706.0" width="3" height="5.0" fill="#26a69a" clip-path="url(#cpM)"/>
<rect x="954" y="707.0" width="3" height="4.0" fill="#b2dfdb" clip-path="url(#cpM)"/>
<rect x="959" y="709.0" width="3" height="2.0" fill="#b2dfdb" clip-path="url(#cpM)"/>
<rect x="964" y="709.0" width="3" height="2.0" fill="#b2dfdb" clip-path="url(#cpM)"/>
<rect x="969" y="707.0" width="3" height="4.0" fill="#26a69a" clip-path="url(#cpM)"/>
<rect x="974" y="705.0" width="3" height="6.0" fill="#26a69a" clip-path="url(#cpM)"/>
<rect x="979" y="704.0" width="3" height="7.0" fill="#26a69a" clip-path="url(#cpM)"/>
<rect x="984" y="697.0" width="3" height="14.0" fill="#26a69a" clip-path="url(#cpM)"/>
<rect x="989" y="697.0" width="3" height="14.0" fill="#b2dfdb" clip-path="url(#cpM)"/>
<rect x="994" y="702.0" width="3" height="9.0" fill="#b2dfdb" clip-path="url(#cpM)"/>
<rect x="999" y="702.0" width="3" height="9.0" fill="#b2dfdb" clip-path="url(#cpM)"/>
<rect x="1004" y="704.0" width="3" height="7.0" fill="#b2dfdb" clip-path="url(#cpM)"/>
<rect x="1009" y="705.0" width="3" height="6.0" fill="#b2dfdb" clip-path="url(#cpM)"/>
<rect x="1014" y="701.0" width="3" height="10.0" fill="#26a69a" clip-path="url(#cpM)"/>
<rect x="1019" y="702.0" width="3" height="9.0" fill="#b2dfdb" clip-path="url(#cpM)"/>
<rect x="1024" y="703.0" width="3" height="8.0" fill="#b2dfdb" clip-path="url(#cpM)"/>
<rect x="1029" y="706.0" width="3" height="5.0" fill="#b2dfdb" clip-path="url(#cpM)"/>
<rect x="1034" y="711.0" width="3" height="4.0" fill="#ff5252" clip-path="url(#cpM)"/>
<rect x="1039" y="711.0" width="3" height="13.0" fill="#ff5252" clip-path="url(#cpM)"/>
<rect x="1044" y="711.0" width="3" height="19.0" fill="#ff5252" clip-path="url(#cpM)"/>
<rect x="1049" y="711.0" width="3" height="17.0" fill="#ffcdd2" clip-path="url(#cpM)"/>
<rect x="1054" y="711.0" width="3" height="12.0" fill="#ffcdd2" clip-path="url(#cpM)"/>
<rect x="1059" y="711.0" width="3" height="9.0" fill="#ffcdd2" clip-path="url(#cpM)"/>
<rect x="1064" y="711.0" width="3" height="7.0" fill="#ffcdd2" clip-path="url(#cpM)"/>
<rect x="1068" y="711.0" width="3" height="4.0" fill="#ffcdd2" clip-path="url(#cpM)"/>
<rect x="1073" y="710.0" width="3" height="1.0" fill="#26a69a" clip-path="url(#cpM)"/>
<rect x="1078" y="708.0" width="3" height="3.0" fill="#26a69a" clip-path="url(#cpM)"/>
<rect x="1083" y="707.0" width="3" height="4.0" fill="#26a69a" clip-path="url(#cpM)"/>
<rect x="1088" y="703.0" width="3" height="8.0" fill="#26a69a" clip-path="url(#cpM)"/>
<rect x="1093" y="705.0" width="3" height="6.0" fill="#b2dfdb" clip-path="url(#cpM)"/>
<rect x="1098" y="709.0" width="3" height="2.0" fill="#b2dfdb" clip-path="url(#cpM)"/>
<rect x="1103" y="710.0" width="3" height="1.0" fill="#b2dfdb" clip-path="url(#cpM)"/>
<rect x="1108" y="711.0" width="3" height="2.0" fill="#ff5252" clip-path="url(#cpM)"/>
<rect x="1113" y="711.0" width="3" height="4.0" fill="#ff5252" clip-path="url(#cpM)"/>
<rect x="1118" y="711.0" width="3" height="6.0" fill="#ff5252" clip-path="url(#cpM)"/>
<rect x="1123" y="711.0" width="3" height="12.0" fill="#ff5252" clip-path="url(#cpM)"/>
<rect x="1128" y="711.0" width="3" height="14.0" fill="#ff5252" clip-path="url(#cpM)"/>
<rect x="1133" y="711.0" width="3" height="12.0" fill="#ffcdd2" clip-path="url(#cpM)"/>
<rect x="1138" y="711.0" width="3" height="8.0" fill="#ffcdd2" clip-path="url(#cpM)"/>
<rect x="1143" y="711.0" width="3" height="5.0" fill="#ffcdd2" clip-path="url(#cpM)"/>
<rect x="1148" y="711.0" width="3" height="3.0" fill="#ffcdd2" clip-path="url(#cpM)"/>
<rect x="1153" y="711.0" width="3" height="1.0" fill="#ffcdd2" clip-path="url(#cpM)"/>
<rect x="1158" y="710.0" width="3" height="1.0" fill="#26a69a" clip-path="url(#cpM)"/>
<rect x="1163" y="710.0" width="3" height="1.0" fill="#26a69a" clip-path="url(#cpM)"/>
<rect x="1168" y="707.0" width="3" height="4.0" fill="#26a69a" clip-path="url(#cpM)"/>
<rect x="1173" y="707.0" width="3" height="4.0" fill="#b2dfdb" clip-path="url(#cpM)"/>
<rect x="1178" y="708.0" width="3" height="3.0" fill="#b2dfdb" clip-path="url(#cpM)"/>
<rect x="1183" y="705.0" width="3" height="6.0" fill="#26a69a" clip-path="url(#cpM)"/>
<rect x="1188" y="698.0" width="3" height="13.0" fill="#26a69a" clip-path="url(#cpM)"/>
<rect x="1193" y="695.0" width="3" height="16.0" fill="#26a69a" clip-path="url(#cpM)"/>
<rect x="1197" y="693.0" width="3" height="18.0" fill="#26a69a" clip-path="url(#cpM)"/>
<polyline points="13.3,698.1 19.3,688.8 26.6,679.2 31.9,675.8 37.2,671.1 47.1,667.8 56.4,665.2 61.7,665.2 67.0,662.5 73.7,655.9 83.6,646.6" fill="none" stroke="#2962ff" stroke-width="1.3" stroke-linejoin="round" clip-path="url(#cpM)"/>
<polyline points="168.5,646.6 174.5,661.2 181.8,676.2 190.4,680.6 195.7,684.5 201.0,694.8 206.4,702.0 211.7,706.0 219.6,710.0 224.9,710.7 230.9,710.0 235.5,711.3 242.2,716.6 250.0,720.9 250.6,721.7 255.9,722.6 266.5,722.6 275.8,725.0 285.1,726.6 290.4,729.2 297.0,727.5 303.7,726.2 314.3,725.0 324.9,723.5 330.2,719.7 335.5,719.3 343.5,716.6 351.4,716.0 359.4,714.4 368.7,713.7 375.3,711.3 383.3,708.7 392.6,704.0 399.2,699.8 408.5,699.4 414.5,698.7 420.4,701.8 425.7,704.0 431.0,705.1 435.0,706.4 439.0,707.1 444.3,709.7 452.3,710.0 458.9,710.7 465.5,710.4 470.8,712.0 476.2,714.0 480.0,716.6 483.3,717.7 493.9,724.3 503.2,724.6 513.8,729.9 519.1,735.6 527.0,740.3 537.7,743.8 546.9,749.8 557.6,756.8 562.2,756.4 568.2,747.8 572.8,741.8 578.8,740.8 586.7,740.3 593.4,735.9 602.7,730.6 608.0,729.0 613.3,725.5 618.6,723.5 625.2,723.5 633.2,725.0 642.5,725.3 653.1,721.3 662.4,719.0 673.0,717.3 682.3,717.0 692.9,716.0 700.8,710.7 706.2,704.0 710.0,698.7 711.9,697.4 716.6,691.2 721.2,689.8 726.5,689.4 731.8,690.8 736.5,690.8 741.1,692.1 746.4,694.4 753.1,696.1 761.0,698.7 766.3,700.7 771.6,702.4 778.3,703.0 786.2,702.4 791.5,698.7 796.8,691.4 802.2,688.1 806.1,685.2 811.4,683.7 816.7,686.1 821.4,686.4 826.0,684.1 831.3,680.6 835.3,686.1 839.3,690.8 844.6,694.8 849.9,696.7 856.6,698.1 861.2,697.7 865.8,701.4 870.5,705.4 875.1,706.0 880.4,704.7 885.7,705.1 890.4,706.4 895.0,706.0 900.3,703.4 905.0,700.7 909.6,698.1 914.9,692.1 920.2,689.8 925.5,689.2 930.2,688.5 935.5,691.4 940.0,691.4 945.9,688.1 953.9,686.4 960.5,687.7 965.2,688.1 975.1,681.1 980.1,679.2 985.1,668.2 990.1,665.6 995.0,667.8 1000.3,666.2 1005.6,666.0 1010.3,665.2 1015.6,659.6 1020.2,658.3 1025.5,657.6 1030.2,658.7 1032.8,664.2 1038.8,678.2 1044.1,690.5 1048.7,693.4 1054.7,691.2 1060.0,690.1 1064.7,689.8 1069.3,687.5 1074.6,683.5 1079.9,680.2 1083.9,678.2 1089.2,672.2 1093.8,673.5 1098.5,676.6 1103.8,677.9 1109.1,680.2 1114.4,683.2 1119.1,686.8 1123.7,694.8 1129.0,700.7 1133.6,702.4 1138.3,700.7 1143.6,698.1 1148.9,696.5 1155.5,693.8 1163.5,693.0 1170.0,688.1 1174.3,687.9 1178.9,688.4 1183.6,684.1 1188.9,673.5 1194.2,666.9 1199.5,660.9" fill="none" stroke="#2962ff" stroke-width="1.3" stroke-linejoin="round" clip-path="url(#cpM)"/>
<polyline points="13.3,703.4 23.3,697.4 32.6,690.1 43.2,682.1 56.4,674.9 67.0,670.9 73.7,667.2 84.3,660.0 94.9,652.7 102.9,649.0 110.8,647.3 120.1,647.0 128.1,647.3" fill="none" stroke="#ff6d00" stroke-width="1.3" stroke-linejoin="round" clip-path="url(#cpM)"/>
<polyline points="178.5,646.6 189.8,660.9 195.7,666.6 206.4,678.8 217.0,690.1 224.9,695.7 232.9,700.1 240.8,704.7 250.0,710.0 254.6,712.4 263.9,716.4 274.5,719.7 285.1,722.3 293.1,724.2 302.4,725.0 314.3,725.3 324.9,724.3 335.5,722.6 346.1,720.4 356.7,718.2 367.4,716.4 378.0,714.3 388.6,711.3 399.2,707.6 407.2,705.4 413.8,703.6 420.4,703.1 428.4,703.4 439.0,704.7 449.6,706.3 460.2,708.0 470.8,709.3 480.0,711.3 487.2,714.0 496.5,717.7 507.1,720.6 516.4,724.6 528.4,731.2 539.0,736.5 549.6,742.5 557.6,746.5 562.9,748.1 569.5,747.8 578.8,745.8 589.4,743.2 600.0,739.2 610.6,735.2 621.2,731.2 631.9,728.6 642.5,727.3 655.7,724.6 669.0,721.9 682.3,720.0 692.9,718.2 702.2,714.7 710.0,710.7 713.3,708.4 719.9,703.4 726.5,699.8 733.2,697.4 738.5,696.1 745.1,695.4 753.1,695.4 761.0,696.3 769.0,697.7 776.9,699.1 784.9,700.1 790.2,700.5 795.5,698.7 803.5,695.4 811.4,692.1 819.4,690.1 826.0,688.8 832.0,687.2 836.7,687.5 843.3,689.2 852.6,691.7 861.9,694.1 871.1,697.7 880.4,700.1 889.7,702.0 897.7,703.0 904.3,702.7 912.3,700.7 920.2,697.4 929.5,694.8 940.0,693.4 945.9,692.1 953.9,690.5 961.8,689.7 969.8,688.8 979.1,686.1 989.7,679.2 1000.3,674.9 1009.6,671.5 1020.2,666.9 1026.8,664.9 1032.8,664.2 1038.8,667.6 1046.7,674.9 1054.7,679.5 1062.7,682.8 1069.3,683.9 1075.9,683.9 1083.9,682.1 1091.9,679.5 1099.8,678.4 1107.8,678.6 1115.7,680.2 1122.4,683.5 1130.3,688.5 1137.0,691.7 1144.9,693.7 1152.9,694.4 1162.2,693.8 1170.0,692.5 1173.0,691.8 1179.6,691.0 1184.9,689.0 1191.5,684.5 1199.5,678.2" fill="none" stroke="#ff6d00" stroke-width="1.3" stroke-linejoin="round" clip-path="url(#cpM)"/>
<g clip-path="url(#cpP)"><line x1="13" y1="141.5" x2="1719" y2="141.5" stroke="#089981" stroke-width="1.1" stroke-dasharray="1.2 1.8"/><polyline points="13.3,380.5 32.6,373.8 52.5,366.5 67.0,359.6 79.0,351.9 92.3,343.3 105.5,336.0 116.1,331.0 126.7,325.4 137.4,317.5 146.7,309.8 153.3,303.9 159.9,299.5 166.6,297.3 173.2,296.0 181.1,294.9 186.5,293.3 193.1,291.6 201.0,291.2 211.7,290.3 222.3,289.3 232.9,288.3 242.2,288.0 250.0,288.3 253.3,288.0 266.5,288.4 279.8,288.9 293.1,290.0 306.3,290.0 319.6,290.7 332.9,290.7 346.1,290.3 359.4,290.0 372.7,289.6 385.9,288.3 399.2,286.7 412.5,285.4 419.1,284.7 425.7,284.7 439.0,284.4 452.3,284.4 465.5,284.7 480.0,285.8 483.3,285.5 496.5,287.6 512.5,290.2 525.7,294.5 539.0,298.5 552.3,304.0 561.5,307.5 573.5,308.8 584.1,311.7 596.0,313.3 609.3,314.7 622.6,316.4 635.8,318.4 649.1,320.0 662.4,321.3 675.6,322.4 684.9,323.7 692.9,324.6 700.8,323.7 710.0,322.1 717.2,320.0 726.5,318.6 739.8,317.7 753.1,317.3 766.3,317.0 776.9,317.3 786.2,316.6 792.9,314.7 800.8,312.4 808.8,310.3 816.7,309.3 824.7,307.6 830.7,305.6 836.7,306.0 845.9,305.4 859.2,304.0 872.5,304.0 885.7,303.0 896.4,302.3 907.0,300.7 914.9,298.1 922.9,296.1 930.8,295.0 940.0,294.1 952.6,290.0 967.1,287.1 979.1,283.1 987.0,279.1 996.3,275.8 1009.6,270.5 1020.2,265.2 1029.5,260.6 1034.8,259.6 1042.8,260.6 1052.1,259.2 1062.7,255.9 1075.9,250.6 1089.2,244.7 1102.5,241.3 1115.7,238.9 1123.7,238.7 1134.3,237.4 1147.6,234.7 1160.8,231.4 1170.0,228.7 1181.5,225.0 1190.8,220.1 1199.9,215.5" fill="none" stroke="#ff0000" stroke-width="2.6" stroke-linejoin="round" stroke-linecap="round"/><rect x="13" y="365.0" width="1" height="4.0" fill="#089981"/><rect x="17" y="271.0" width="1" height="94.0" fill="#089981"/><rect x="16" y="342.0" width="3" height="23.0" fill="#089981"/><rect x="22" y="325.0" width="1" height="18.0" fill="#089981"/><rect x="21" y="332.0" width="3" height="11.0" fill="#089981"/><rect x="27" y="321.0" width="1" height="14.0" fill="#089981"/><rect x="26" y="325.0" width="3" height="7.0" fill="#089981"/><rect x="32" y="314.0" width="1" height="16.0" fill="#f23645"/><rect x="31" y="324.0" width="3" height="6.0" fill="#f23645"/><rect x="37" y="286.0" width="1" height="45.0" fill="#089981"/><rect x="36" y="321.0" width="3" height="10.0" fill="#089981"/><rect x="42" y="317.0" width="1" height="13.0" fill="#f23645"/><rect x="41" y="321.0" width="3" height="4.0" fill="#f23645"/><rect x="47" y="322.0" width="1" height="14.0" fill="#089981"/><rect x="46" y="322.0" width="3" height="3.0" fill="#089981"/><rect x="52" y="321.0" width="1" height="9.0" fill="#089981"/><rect x="51" y="321.0" width="3" height="1.0" fill="#089981"/><rect x="57" y="303.0" width="1" height="26.0" fill="#089981"/><rect x="56" y="315.0" width="3" height="7.0" fill="#089981"/><rect x="62" y="312.0" width="1" height="11.0" fill="#f23645"/><rect x="61" y="316.0" width="3" height="4.0" fill="#f23645"/><rect x="67" y="304.0" width="1" height="17.0" fill="#089981"/><rect x="66" y="305.0" width="3" height="16.0" fill="#089981"/><rect x="72" y="289.0" width="1" height="19.0" fill="#089981"/><rect x="71" y="289.0" width="3" height="18.0" fill="#089981"/><rect x="77" y="274.0" width="1" height="21.0" fill="#089981"/><rect x="76" y="280.0" width="3" height="10.0" fill="#089981"/><rect x="82" y="266.0" width="1" height="21.0" fill="#089981"/><rect x="81" y="275.0" width="3" height="7.0" fill="#089981"/><rect x="87" y="258.0" width="1" height="19.0" fill="#089981"/><rect x="86" y="270.0" width="3" height="6.0" fill="#089981"/><rect x="92" y="262.0" width="1" height="13.0" fill="#089981"/><rect x="91" y="266.0" width="3" height="6.0" fill="#089981"/><rect x="97" y="252.0" width="1" height="18.0" fill="#f23645"/><rect x="96" y="266.0" width="3" height="2.0" fill="#f23645"/><rect x="102" y="259.0" width="1" height="16.0" fill="#f23645"/><rect x="101" y="267.0" width="3" height="5.0" fill="#f23645"/><rect x="107" y="265.0" width="1" height="10.0" fill="#f23645"/><rect x="106" y="272.0" width="3" height="3.0" fill="#f23645"/><rect x="112" y="268.0" width="1" height="7.0" fill="#089981"/><rect x="111" y="271.0" width="3" height="3.0" fill="#089981"/><rect x="117" y="263.0" width="1" height="9.0" fill="#089981"/><rect x="116" y="270.0" width="3" height="1.0" fill="#089981"/><rect x="122" y="260.0" width="1" height="11.0" fill="#089981"/><rect x="121" y="266.0" width="3" height="5.0" fill="#089981"/><rect x="127" y="252.0" width="1" height="15.0" fill="#089981"/><rect x="126" y="257.0" width="3" height="10.0" fill="#089981"/><rect x="132" y="213.0" width="1" height="45.0" fill="#089981"/><rect x="131" y="217.0" width="3" height="41.0" fill="#089981"/><rect x="136" y="200.0" width="1" height="27.0" fill="#f23645"/><rect x="135" y="217.0" width="3" height="9.0" fill="#f23645"/><rect x="141" y="210.0" width="1" height="24.0" fill="#089981"/><rect x="140" y="220.0" width="3" height="6.0" fill="#089981"/><rect x="146" y="207.0" width="1" height="21.0" fill="#089981"/><rect x="145" y="209.0" width="3" height="13.0" fill="#089981"/><rect x="151" y="197.0" width="1" height="20.0" fill="#089981"/><rect x="150" y="197.0" width="3" height="13.0" fill="#089981"/><rect x="156" y="194.0" width="1" height="28.0" fill="#f23645"/><rect x="155" y="197.0" width="3" height="15.0" fill="#f23645"/><rect x="161" y="209.0" width="1" height="31.0" fill="#f23645"/><rect x="160" y="211.0" width="3" height="29.0" fill="#f23645"/><rect x="166" y="240.0" width="1" height="45.0" fill="#f23645"/><rect x="165" y="240.0" width="3" height="22.0" fill="#f23645"/><rect x="171" y="257.0" width="1" height="17.0" fill="#f23645"/><rect x="170" y="261.0" width="3" height="9.0" fill="#f23645"/><rect x="176" y="266.0" width="1" height="16.0" fill="#f23645"/><rect x="175" y="269.0" width="3" height="13.0" fill="#f23645"/><rect x="181" y="276.0" width="1" height="16.0" fill="#f23645"/><rect x="180" y="281.0" width="3" height="1.0" fill="#f23645"/><rect x="186" y="259.0" width="1" height="26.0" fill="#089981"/><rect x="185" y="259.0" width="3" height="24.0" fill="#089981"/><rect x="191" y="242.0" width="1" height="25.0" fill="#089981"/><rect x="190" y="251.0" width="3" height="11.0" fill="#089981"/><rect x="196" y="239.0" width="1" height="27.0" fill="#f23645"/><rect x="195" y="251.0" width="3" height="14.0" fill="#f23645"/><rect x="201" y="256.0" width="1" height="47.0" fill="#f23645"/><rect x="200" y="265.0" width="3" height="27.0" fill="#f23645"/><rect x="206" y="266.0" width="1" height="30.0" fill="#089981"/><rect x="205" y="289.0" width="3" height="4.0" fill="#089981"/><rect x="211" y="268.0" width="1" height="22.0" fill="#089981"/><rect x="210" y="284.0" width="3" height="6.0" fill="#089981"/><rect x="216" y="277.0" width="1" height="9.0" fill="#089981"/><rect x="215" y="279.0" width="3" height="5.0" fill="#089981"/><rect x="221" y="271.0" width="1" height="11.0" fill="#f23645"/><rect x="220" y="279.0" width="3" height="1.0" fill="#f23645"/><rect x="226" y="272.0" width="1" height="10.0" fill="#089981"/><rect x="225" y="274.0" width="3" height="7.0" fill="#089981"/><rect x="231" y="265.0" width="1" height="16.0" fill="#089981"/><rect x="230" y="269.0" width="3" height="6.0" fill="#089981"/><rect x="236" y="263.0" width="1" height="24.0" fill="#f23645"/><rect x="235" y="269.0" width="3" height="8.0" fill="#f23645"/><rect x="241" y="275.0" width="1" height="16.0" fill="#f23645"/><rect x="240" y="276.0" width="3" height="12.0" fill="#f23645"/><rect x="246" y="283.0" width="1" height="21.0" fill="#f23645"/><rect x="245" y="288.0" width="3" height="6.0" fill="#f23645"/><rect x="251" y="288.0" width="1" height="10.0" fill="#f23645"/><rect x="250" y="292.0" width="3" height="1.0" fill="#f23645"/><rect x="256" y="287.0" width="1" height="7.0" fill="#089981"/><rect x="255" y="291.0" width="3" height="3.0" fill="#089981"/><rect x="261" y="275.0" width="1" height="17.0" fill="#089981"/><rect x="260" y="285.0" width="3" height="7.0" fill="#089981"/><rect x="266" y="277.0" width="1" height="12.0" fill="#f23645"/><rect x="265" y="285.0" width="3" height="3.0" fill="#f23645"/><rect x="270" y="273.0" width="1" height="18.0" fill="#f23645"/><rect x="269" y="286.0" width="3" height="5.0" fill="#f23645"/><rect x="275" y="283.0" width="1" height="20.0" fill="#f23645"/><rect x="274" y="288.0" width="3" height="8.0" fill="#f23645"/><rect x="280" y="287.0" width="1" height="14.0" fill="#089981"/><rect x="279" y="295.0" width="3" height="1.0" fill="#089981"/><rect x="285" y="288.0" width="1" height="11.0" fill="#f23645"/><rect x="284" y="295.0" width="3" height="2.0" fill="#f23645"/><rect x="290" y="292.0" width="1" height="23.0" fill="#f23645"/><rect x="289" y="296.0" width="3" height="11.0" fill="#f23645"/><rect x="295" y="293.0" width="1" height="19.0" fill="#089981"/><rect x="294" y="293.0" width="3" height="14.0" fill="#089981"/><rect x="300" y="286.0" width="1" height="13.0" fill="#089981"/><rect x="299" y="292.0" width="3" height="3.0" fill="#089981"/><rect x="305" y="283.0" width="1" height="13.0" fill="#f23645"/><rect x="304" y="289.0" width="3" height="6.0" fill="#f23645"/><rect x="310" y="287.0" width="1" height="10.0" fill="#f23645"/><rect x="309" y="294.0" width="3" height="1.0" fill="#f23645"/><rect x="315" y="293.0" width="1" height="9.0" fill="#f23645"/><rect x="314" y="294.0" width="3" height="4.0" fill="#f23645"/><rect x="320" y="290.0" width="1" height="11.0" fill="#089981"/><rect x="319" y="295.0" width="3" height="3.0" fill="#089981"/><rect x="325" y="283.0" width="1" height="15.0" fill="#089981"/><rect x="324" y="291.0" width="3" height="6.0" fill="#089981"/><rect x="330" y="270.0" width="1" height="24.0" fill="#089981"/><rect x="329" y="281.0" width="3" height="12.0" fill="#089981"/><rect x="335" y="281.0" width="1" height="22.0" fill="#f23645"/><rect x="334" y="281.0" width="3" height="15.0" fill="#f23645"/><rect x="340" y="280.0" width="1" height="16.0" fill="#089981"/><rect x="339" y="285.0" width="3" height="11.0" fill="#089981"/><rect x="345" y="270.0" width="1" height="19.0" fill="#f23645"/><rect x="344" y="284.0" width="3" height="3.0" fill="#f23645"/><rect x="350" y="283.0" width="1" height="10.0" fill="#f23645"/><rect x="349" y="286.0" width="3" height="7.0" fill="#f23645"/><rect x="355" y="289.0" width="1" height="5.0" fill="#089981"/><rect x="354" y="290.0" width="3" height="3.0" fill="#089981"/><rect x="360" y="285.0" width="1" height="8.0" fill="#089981"/><rect x="359" y="287.0" width="3" height="3.0" fill="#089981"/><rect x="365" y="280.0" width="1" height="12.0" fill="#f23645"/><rect x="364" y="287.0" width="3" height="4.0" fill="#f23645"/><rect x="370" y="286.0" width="1" height="10.0" fill="#089981"/><rect x="369" y="289.0" width="3" height="3.0" fill="#089981"/><rect x="375" y="280.0" width="1" height="12.0" fill="#089981"/><rect x="374" y="281.0" width="3" height="9.0" fill="#089981"/><rect x="380" y="277.0" width="1" height="9.0" fill="#f23645"/><rect x="379" y="280.0" width="3" height="1.0" fill="#f23645"/><rect x="385" y="276.0" width="1" height="7.0" fill="#089981"/><rect x="384" y="277.0" width="3" height="4.0" fill="#089981"/><rect x="390" y="272.0" width="1" height="9.0" fill="#089981"/><rect x="389" y="275.0" width="3" height="2.0" fill="#089981"/><rect x="395" y="262.0" width="1" height="15.0" fill="#089981"/><rect x="394" y="271.0" width="3" height="5.0" fill="#089981"/><rect x="400" y="251.0" width="1" height="21.0" fill="#089981"/><rect x="399" y="264.0" width="3" height="8.0" fill="#089981"/><rect x="404" y="264.0" width="1" height="19.0" fill="#f23645"/><rect x="403" y="264.0" width="3" height="10.0" fill="#f23645"/><rect x="409" y="270.0" width="1" height="11.0" fill="#f23645"/><rect x="408" y="273.0" width="3" height="3.0" fill="#f23645"/><rect x="414" y="260.0" width="1" height="16.0" fill="#089981"/><rect x="413" y="270.0" width="3" height="6.0" fill="#089981"/><rect x="419" y="267.0" width="1" height="21.0" fill="#f23645"/><rect x="418" y="270.0" width="3" height="16.0" fill="#f23645"/><rect x="424" y="279.0" width="1" height="9.0" fill="#089981"/><rect x="423" y="283.0" width="3" height="3.0" fill="#089981"/><rect x="429" y="278.0" width="1" height="6.0" fill="#089981"/><rect x="428" y="281.0" width="3" height="2.0" fill="#089981"/><rect x="434" y="275.0" width="1" height="18.0" fill="#f23645"/><rect x="433" y="282.0" width="3" height="5.0" fill="#f23645"/><rect x="439" y="281.0" width="1" height="9.0" fill="#089981"/><rect x="438" y="281.0" width="3" height="6.0" fill="#089981"/><rect x="444" y="278.0" width="1" height="19.0" fill="#f23645"/><rect x="443" y="282.0" width="3" height="11.0" fill="#f23645"/><rect x="449" y="279.0" width="1" height="17.0" fill="#089981"/><rect x="448" y="281.0" width="3" height="12.0" fill="#089981"/><rect x="454" y="270.0" width="1" height="17.0" fill="#f23645"/><rect x="453" y="281.0" width="3" height="4.0" fill="#f23645"/><rect x="459" y="278.0" width="1" height="8.0" fill="#f23645"/><rect x="458" y="283.0" width="3" height="1.0" fill="#f23645"/><rect x="464" y="278.0" width="1" height="8.0" fill="#089981"/><rect x="463" y="281.0" width="3" height="5.0" fill="#089981"/><rect x="469" y="276.0" width="1" height="16.0" fill="#f23645"/><rect x="468" y="281.0" width="3" height="11.0" fill="#f23645"/><rect x="474" y="282.0" width="1" height="11.0" fill="#089981"/><rect x="473" y="291.0" width="3" height="1.0" fill="#089981"/><rect x="479" y="288.0" width="1" height="13.0" fill="#f23645"/><rect x="478" y="288.0" width="3" height="10.0" fill="#f23645"/><rect x="484" y="288.0" width="1" height="14.0" fill="#f23645"/><rect x="483" y="296.0" width="3" height="2.0" fill="#f23645"/><rect x="489" y="297.0" width="1" height="12.0" fill="#f23645"/><rect x="488" y="299.0" width="3" height="9.0" fill="#f23645"/><rect x="494" y="306.0" width="1" height="8.0" fill="#f23645"/><rect x="493" y="307.0" width="3" height="3.0" fill="#f23645"/><rect x="499" y="300.0" width="1" height="10.0" fill="#089981"/><rect x="498" y="301.0" width="3" height="8.0" fill="#089981"/><rect x="504" y="291.0" width="1" height="11.0" fill="#089981"/><rect x="503" y="300.0" width="3" height="2.0" fill="#089981"/><rect x="509" y="299.0" width="1" height="16.0" fill="#f23645"/><rect x="508" y="300.0" width="3" height="13.0" fill="#f23645"/><rect x="514" y="309.0" width="1" height="14.0" fill="#f23645"/><rect x="513" y="312.0" width="3" height="7.0" fill="#f23645"/><rect x="519" y="315.0" width="1" height="38.0" fill="#f23645"/><rect x="518" y="318.0" width="3" height="18.0" fill="#f23645"/><rect x="524" y="325.0" width="1" height="20.0" fill="#089981"/><rect x="523" y="329.0" width="3" height="7.0" fill="#089981"/><rect x="529" y="318.0" width="1" height="15.0" fill="#f23645"/><rect x="528" y="328.0" width="3" height="1.0" fill="#f23645"/><rect x="534" y="322.0" width="1" height="17.0" fill="#f23645"/><rect x="533" y="328.0" width="3" height="6.0" fill="#f23645"/><rect x="538" y="325.0" width="1" height="12.0" fill="#f23645"/><rect x="537" y="332.0" width="3" height="2.0" fill="#f23645"/><rect x="543" y="333.0" width="1" height="23.0" fill="#f23645"/><rect x="542" y="334.0" width="3" height="14.0" fill="#f23645"/><rect x="548" y="339.0" width="1" height="19.0" fill="#f23645"/><rect x="547" y="347.0" width="3" height="4.0" fill="#f23645"/><rect x="553" y="340.0" width="1" height="26.0" fill="#f23645"/><rect x="552" y="350.0" width="3" height="7.0" fill="#f23645"/><rect x="558" y="351.0" width="1" height="16.0" fill="#f23645"/><rect x="557" y="357.0" width="3" height="7.0" fill="#f23645"/><rect x="563" y="335.0" width="1" height="30.0" fill="#089981"/><rect x="562" y="346.0" width="3" height="18.0" fill="#089981"/><rect x="568" y="310.0" width="1" height="44.0" fill="#089981"/><rect x="567" y="320.0" width="3" height="27.0" fill="#089981"/><rect x="573" y="303.0" width="1" height="32.0" fill="#089981"/><rect x="572" y="315.0" width="3" height="7.0" fill="#089981"/><rect x="578" y="314.0" width="1" height="27.0" fill="#f23645"/><rect x="577" y="315.0" width="3" height="25.0" fill="#f23645"/><rect x="583" y="309.0" width="1" height="42.0" fill="#f23645"/><rect x="582" y="340.0" width="3" height="5.0" fill="#f23645"/><rect x="588" y="329.0" width="1" height="18.0" fill="#089981"/><rect x="587" y="341.0" width="3" height="5.0" fill="#089981"/><rect x="593" y="329.0" width="1" height="13.0" fill="#089981"/><rect x="592" y="329.0" width="3" height="13.0" fill="#089981"/><rect x="598" y="320.0" width="1" height="16.0" fill="#f23645"/><rect x="597" y="329.0" width="3" height="2.0" fill="#f23645"/><rect x="603" y="317.0" width="1" height="13.0" fill="#089981"/><rect x="602" y="326.0" width="3" height="4.0" fill="#089981"/><rect x="608" y="325.0" width="1" height="11.0" fill="#f23645"/><rect x="607" y="326.0" width="3" height="10.0" fill="#f23645"/><rect x="613" y="318.0" width="1" height="20.0" fill="#089981"/><rect x="612" y="325.0" width="3" height="10.0" fill="#089981"/><rect x="618" y="322.0" width="1" height="11.0" fill="#f23645"/><rect x="617" y="324.0" width="3" height="5.0" fill="#f23645"/><rect x="623" y="325.0" width="1" height="12.0" fill="#f23645"/><rect x="622" y="328.0" width="3" height="8.0" fill="#f23645"/><rect x="628" y="333.0" width="1" height="12.0" fill="#f23645"/><rect x="627" y="335.0" width="3" height="5.0" fill="#f23645"/><rect x="633" y="334.0" width="1" height="11.0" fill="#f23645"/><rect x="632" y="339.0" width="3" height="4.0" fill="#f23645"/><rect x="638" y="335.0" width="1" height="8.0" fill="#089981"/><rect x="637" y="339.0" width="3" height="4.0" fill="#089981"/><rect x="643" y="333.0" width="1" height="10.0" fill="#f23645"/><rect x="642" y="339.0" width="3" height="3.0" fill="#f23645"/><rect x="648" y="332.0" width="1" height="11.0" fill="#089981"/><rect x="647" y="332.0" width="3" height="11.0" fill="#089981"/><rect x="653" y="330.0" width="1" height="6.0" fill="#089981"/><rect x="652" y="332.0" width="3" height="1.0" fill="#089981"/><rect x="658" y="328.0" width="1" height="9.0" fill="#f23645"/><rect x="657" y="332.0" width="3" height="2.0" fill="#f23645"/><rect x="663" y="330.0" width="1" height="7.0" fill="#f23645"/><rect x="662" y="333.0" width="3" height="1.0" fill="#f23645"/><rect x="667" y="332.0" width="1" height="5.0" fill="#f23645"/><rect x="666" y="333.0" width="3" height="2.0" fill="#f23645"/><rect x="672" y="329.0" width="1" height="6.0" fill="#089981"/><rect x="671" y="332.0" width="3" height="3.0" fill="#089981"/><rect x="677" y="331.0" width="1" height="6.0" fill="#f23645"/><rect x="676" y="332.0" width="3" height="5.0" fill="#f23645"/><rect x="682" y="329.0" width="1" height="8.0" fill="#089981"/><rect x="681" y="336.0" width="3" height="1.0" fill="#089981"/><rect x="687" y="332.0" width="1" height="4.0" fill="#089981"/><rect x="686" y="333.0" width="3" height="3.0" fill="#089981"/><rect x="692" y="329.0" width="1" height="6.0" fill="#089981"/><rect x="691" y="332.0" width="3" height="2.0" fill="#089981"/><rect x="697" y="319.0" width="1" height="14.0" fill="#089981"/><rect x="696" y="319.0" width="3" height="14.0" fill="#089981"/><rect x="702" y="313.0" width="1" height="7.0" fill="#089981"/><rect x="701" y="317.0" width="3" height="3.0" fill="#089981"/><rect x="707" y="294.0" width="1" height="27.0" fill="#089981"/><rect x="706" y="299.0" width="3" height="19.0" fill="#089981"/><rect x="712" y="264.0" width="1" height="44.0" fill="#f23645"/><rect x="711" y="299.0" width="3" height="1.0" fill="#f23645"/><rect x="717" y="262.0" width="1" height="39.0" fill="#089981"/><rect x="716" y="286.0" width="3" height="14.0" fill="#089981"/><rect x="722" y="286.0" width="1" height="28.0" fill="#f23645"/><rect x="721" y="287.0" width="3" height="17.0" fill="#f23645"/><rect x="727" y="298.0" width="1" height="13.0" fill="#f23645"/><rect x="726" y="304.0" width="3" height="2.0" fill="#f23645"/><rect x="732" y="301.0" width="1" height="10.0" fill="#f23645"/><rect x="731" y="305.0" width="3" height="5.0" fill="#f23645"/><rect x="737" y="304.0" width="1" height="7.0" fill="#089981"/><rect x="736" y="305.0" width="3" height="6.0" fill="#089981"/><rect x="742" y="303.0" width="1" height="9.0" fill="#f23645"/><rect x="741" y="305.0" width="3" height="7.0" fill="#f23645"/><rect x="747" y="302.0" width="1" height="18.0" fill="#f23645"/><rect x="746" y="311.0" width="3" height="4.0" fill="#f23645"/><rect x="752" y="307.0" width="1" height="12.0" fill="#089981"/><rect x="751" y="312.0" width="3" height="3.0" fill="#089981"/><rect x="757" y="303.0" width="1" height="11.0" fill="#089981"/><rect x="756" y="311.0" width="3" height="2.0" fill="#089981"/><rect x="762" y="305.0" width="1" height="12.0" fill="#f23645"/><rect x="761" y="311.0" width="3" height="6.0" fill="#f23645"/><rect x="767" y="307.0" width="1" height="11.0" fill="#f23645"/><rect x="766" y="316.0" width="3" height="1.0" fill="#f23645"/><rect x="772" y="311.0" width="1" height="8.0" fill="#f23645"/><rect x="771" y="317.0" width="3" height="1.0" fill="#f23645"/><rect x="777" y="312.0" width="1" height="8.0" fill="#089981"/><rect x="776" y="313.0" width="3" height="5.0" fill="#089981"/><rect x="782" y="309.0" width="1" height="9.0" fill="#089981"/><rect x="781" y="311.0" width="3" height="4.0" fill="#089981"/><rect x="787" y="305.0" width="1" height="10.0" fill="#089981"/><rect x="786" y="308.0" width="3" height="4.0" fill="#089981"/><rect x="792" y="285.0" width="1" height="27.0" fill="#089981"/><rect x="791" y="293.0" width="3" height="16.0" fill="#089981"/><rect x="797" y="267.0" width="1" height="28.0" fill="#089981"/><rect x="796" y="273.0" width="3" height="21.0" fill="#089981"/><rect x="801" y="268.0" width="1" height="16.0" fill="#f23645"/><rect x="800" y="274.0" width="3" height="10.0" fill="#f23645"/><rect x="806" y="277.0" width="1" height="11.0" fill="#089981"/><rect x="805" y="277.0" width="3" height="8.0" fill="#089981"/><rect x="811" y="266.0" width="1" height="21.0" fill="#f23645"/><rect x="810" y="277.0" width="3" height="6.0" fill="#f23645"/><rect x="816" y="280.0" width="1" height="16.0" fill="#f23645"/><rect x="815" y="285.0" width="3" height="11.0" fill="#f23645"/><rect x="821" y="280.0" width="1" height="16.0" fill="#089981"/><rect x="820" y="288.0" width="3" height="8.0" fill="#089981"/><rect x="826" y="266.0" width="1" height="28.0" fill="#089981"/><rect x="825" y="274.0" width="3" height="14.0" fill="#089981"/><rect x="831" y="260.0" width="1" height="18.0" fill="#089981"/><rect x="830" y="266.0" width="3" height="9.0" fill="#089981"/><rect x="836" y="262.0" width="1" height="72.0" fill="#f23645"/><rect x="835" y="265.0" width="3" height="46.0" fill="#f23645"/><rect x="841" y="295.0" width="1" height="23.0" fill="#089981"/><rect x="840" y="306.0" width="3" height="6.0" fill="#089981"/><rect x="846" y="291.0" width="1" height="20.0" fill="#089981"/><rect x="845" y="300.0" width="3" height="7.0" fill="#089981"/><rect x="851" y="289.0" width="1" height="13.0" fill="#089981"/><rect x="850" y="294.0" width="3" height="8.0" fill="#089981"/><rect x="856" y="293.0" width="1" height="20.0" fill="#089981"/><rect x="855" y="293.0" width="3" height="1.0" fill="#089981"/><rect x="861" y="276.0" width="1" height="18.0" fill="#089981"/><rect x="860" y="288.0" width="3" height="6.0" fill="#089981"/><rect x="866" y="285.0" width="1" height="21.0" fill="#f23645"/><rect x="865" y="288.0" width="3" height="17.0" fill="#f23645"/><rect x="871" y="303.0" width="1" height="18.0" fill="#f23645"/><rect x="870" y="304.0" width="3" height="9.0" fill="#f23645"/><rect x="876" y="290.0" width="1" height="22.0" fill="#089981"/><rect x="875" y="298.0" width="3" height="14.0" fill="#089981"/><rect x="881" y="286.0" width="1" height="13.0" fill="#089981"/><rect x="880" y="291.0" width="3" height="8.0" fill="#089981"/><rect x="886" y="283.0" width="1" height="14.0" fill="#f23645"/><rect x="885" y="289.0" width="3" height="8.0" fill="#f23645"/><rect x="891" y="288.0" width="1" height="14.0" fill="#f23645"/><rect x="890" y="296.0" width="3" height="5.0" fill="#f23645"/><rect x="896" y="293.0" width="1" height="8.0" fill="#089981"/><rect x="895" y="294.0" width="3" height="7.0" fill="#089981"/><rect x="901" y="269.0" width="1" height="26.0" fill="#089981"/><rect x="900" y="283.0" width="3" height="12.0" fill="#089981"/><rect x="906" y="277.0" width="1" height="7.0" fill="#089981"/><rect x="905" y="280.0" width="3" height="3.0" fill="#089981"/><rect x="911" y="268.0" width="1" height="15.0" fill="#089981"/><rect x="910" y="274.0" width="3" height="7.0" fill="#089981"/><rect x="916" y="257.0" width="1" height="17.0" fill="#089981"/><rect x="915" y="260.0" width="3" height="14.0" fill="#089981"/><rect x="921" y="258.0" width="1" height="12.0" fill="#f23645"/><rect x="920" y="260.0" width="3" height="8.0" fill="#f23645"/><rect x="926" y="262.0" width="1" height="12.0" fill="#f23645"/><rect x="925" y="267.0" width="3" height="6.0" fill="#f23645"/><rect x="931" y="262.0" width="1" height="14.0" fill="#089981"/><rect x="930" y="271.0" width="3" height="2.0" fill="#089981"/><rect x="935" y="268.0" width="1" height="19.0" fill="#f23645"/><rect x="934" y="271.0" width="3" height="14.0" fill="#f23645"/><rect x="940" y="272.0" width="1" height="14.0" fill="#089981"/><rect x="939" y="272.0" width="3" height="12.0" fill="#089981"/><rect x="945" y="254.0" width="1" height="22.0" fill="#089981"/><rect x="944" y="260.0" width="3" height="13.0" fill="#089981"/><rect x="950" y="247.0" width="1" height="20.0" fill="#f23645"/><rect x="949" y="260.0" width="3" height="2.0" fill="#f23645"/><rect x="955" y="257.0" width="1" height="18.0" fill="#f23645"/><rect x="954" y="261.0" width="3" height="2.0" fill="#f23645"/><rect x="960" y="258.0" width="1" height="22.0" fill="#f23645"/><rect x="959" y="263.0" width="3" height="8.0" fill="#f23645"/><rect x="965" y="232.0" width="1" height="49.0" fill="#089981"/><rect x="964" y="265.0" width="3" height="5.0" fill="#089981"/><rect x="970" y="247.0" width="1" height="19.0" fill="#089981"/><rect x="969" y="248.0" width="3" height="18.0" fill="#089981"/><rect x="975" y="234.0" width="1" height="21.0" fill="#089981"/><rect x="974" y="242.0" width="3" height="7.0" fill="#089981"/><rect x="980" y="236.0" width="1" height="18.0" fill="#f23645"/><rect x="979" y="241.0" width="3" height="4.0" fill="#f23645"/><rect x="985" y="148.0" width="1" height="97.0" fill="#089981"/><rect x="984" y="197.0" width="3" height="48.0" fill="#089981"/><rect x="990" y="187.0" width="1" height="45.0" fill="#f23645"/><rect x="989" y="197.0" width="3" height="28.0" fill="#f23645"/><rect x="995" y="216.0" width="1" height="33.0" fill="#f23645"/><rect x="994" y="224.0" width="3" height="19.0" fill="#f23645"/><rect x="1000" y="218.0" width="1" height="24.0" fill="#089981"/><rect x="999" y="223.0" width="3" height="19.0" fill="#089981"/><rect x="1005" y="203.0" width="1" height="35.0" fill="#f23645"/><rect x="1004" y="224.0" width="3" height="3.0" fill="#f23645"/><rect x="1010" y="210.0" width="1" height="23.0" fill="#089981"/><rect x="1009" y="221.0" width="3" height="5.0" fill="#089981"/><rect x="1015" y="178.0" width="1" height="43.0" fill="#089981"/><rect x="1014" y="196.0" width="3" height="25.0" fill="#089981"/><rect x="1020" y="178.0" width="1" height="55.0" fill="#f23645"/><rect x="1019" y="195.0" width="3" height="12.0" fill="#f23645"/><rect x="1025" y="194.0" width="1" height="25.0" fill="#089981"/><rect x="1024" y="205.0" width="3" height="2.0" fill="#089981"/><rect x="1030" y="199.0" width="1" height="20.0" fill="#f23645"/><rect x="1029" y="206.0" width="3" height="5.0" fill="#f23645"/><rect x="1035" y="209.0" width="1" height="46.0" fill="#f23645"/><rect x="1034" y="210.0" width="3" height="35.0" fill="#f23645"/><rect x="1040" y="234.0" width="1" height="40.0" fill="#f23645"/><rect x="1039" y="243.0" width="3" height="27.0" fill="#f23645"/><rect x="1045" y="256.0" width="1" height="27.0" fill="#f23645"/><rect x="1044" y="268.0" width="3" height="4.0" fill="#f23645"/><rect x="1050" y="238.0" width="1" height="34.0" fill="#089981"/><rect x="1049" y="241.0" width="3" height="31.0" fill="#089981"/><rect x="1055" y="206.0" width="1" height="36.0" fill="#089981"/><rect x="1054" y="222.0" width="3" height="19.0" fill="#089981"/><rect x="1060" y="219.0" width="1" height="14.0" fill="#f23645"/><rect x="1059" y="223.0" width="3" height="3.0" fill="#f23645"/><rect x="1065" y="212.0" width="1" height="28.0" fill="#f23645"/><rect x="1064" y="223.0" width="3" height="4.0" fill="#f23645"/><rect x="1069" y="208.0" width="1" height="20.0" fill="#089981"/><rect x="1068" y="214.0" width="3" height="14.0" fill="#089981"/><rect x="1074" y="202.0" width="1" height="20.0" fill="#089981"/><rect x="1073" y="204.0" width="3" height="11.0" fill="#089981"/><rect x="1079" y="195.0" width="1" height="17.0" fill="#089981"/><rect x="1078" y="203.0" width="3" height="2.0" fill="#089981"/><rect x="1084" y="196.0" width="1" height="10.0" fill="#089981"/><rect x="1083" y="202.0" width="3" height="1.0" fill="#089981"/><rect x="1089" y="178.0" width="1" height="26.0" fill="#089981"/><rect x="1088" y="181.0" width="3" height="21.0" fill="#089981"/><rect x="1094" y="180.0" width="1" height="42.0" fill="#f23645"/><rect x="1093" y="182.0" width="3" height="26.0" fill="#f23645"/><rect x="1099" y="196.0" width="1" height="30.0" fill="#f23645"/><rect x="1098" y="208.0" width="3" height="8.0" fill="#f23645"/><rect x="1104" y="197.0" width="1" height="22.0" fill="#089981"/><rect x="1103" y="205.0" width="3" height="11.0" fill="#089981"/><rect x="1109" y="203.0" width="1" height="14.0" fill="#f23645"/><rect x="1108" y="205.0" width="3" height="6.0" fill="#f23645"/><rect x="1114" y="207.0" width="1" height="13.0" fill="#f23645"/><rect x="1113" y="210.0" width="3" height="3.0" fill="#f23645"/><rect x="1119" y="213.0" width="1" height="10.0" fill="#f23645"/><rect x="1118" y="213.0" width="3" height="7.0" fill="#f23645"/><rect x="1124" y="218.0" width="1" height="30.0" fill="#f23645"/><rect x="1123" y="220.0" width="3" height="28.0" fill="#f23645"/><rect x="1129" y="230.0" width="1" height="19.0" fill="#089981"/><rect x="1128" y="236.0" width="3" height="12.0" fill="#089981"/><rect x="1134" y="223.0" width="1" height="35.0" fill="#089981"/><rect x="1133" y="223.0" width="3" height="15.0" fill="#089981"/><rect x="1139" y="204.0" width="1" height="22.0" fill="#089981"/><rect x="1138" y="210.0" width="3" height="15.0" fill="#089981"/><rect x="1144" y="197.0" width="1" height="18.0" fill="#089981"/><rect x="1143" y="206.0" width="3" height="5.0" fill="#089981"/><rect x="1149" y="195.0" width="1" height="22.0" fill="#f23645"/><rect x="1148" y="206.0" width="3" height="3.0" fill="#f23645"/><rect x="1154" y="192.0" width="1" height="17.0" fill="#089981"/><rect x="1153" y="200.0" width="3" height="8.0" fill="#089981"/><rect x="1159" y="197.0" width="1" height="10.0" fill="#f23645"/><rect x="1158" y="200.0" width="3" height="5.0" fill="#f23645"/><rect x="1164" y="197.0" width="1" height="16.0" fill="#089981"/><rect x="1163" y="204.0" width="3" height="1.0" fill="#089981"/><rect x="1169" y="182.0" width="1" height="25.0" fill="#089981"/><rect x="1168" y="185.0" width="3" height="20.0" fill="#089981"/><rect x="1174" y="176.0" width="1" height="24.0" fill="#f23645"/><rect x="1173" y="186.0" width="3" height="11.0" fill="#f23645"/><rect x="1179" y="169.0" width="1" height="37.0" fill="#f23645"/><rect x="1178" y="196.0" width="3" height="6.0" fill="#f23645"/><rect x="1184" y="170.0" width="1" height="32.0" fill="#089981"/><rect x="1183" y="175.0" width="3" height="27.0" fill="#089981"/><rect x="1189" y="123.0" width="1" height="58.0" fill="#089981"/><rect x="1188" y="144.0" width="3" height="32.0" fill="#089981"/><rect x="1194" y="142.0" width="1" height="20.0" fill="#f23645"/><rect x="1193" y="144.0" width="3" height="4.0" fill="#f23645"/><rect x="1198" y="136.0" width="1" height="18.0" fill="#089981"/><rect x="1197" y="141.0" width="3" height="7.0" fill="#089981"/><line x1="13" y1="324" x2="1719" y2="324" stroke="#f23645" stroke-width="2"/><line x1="122" y1="196" x2="1719" y2="196" stroke="#f23645" stroke-width="2" stroke-dasharray="10 12" stroke-dashoffset="0.0"/><line x1="27" y1="331" x2="1719" y2="331" stroke="#f23645" stroke-width="2" stroke-dasharray="10 12" stroke-dashoffset="0.0"/><line x1="13" y1="358" x2="1719" y2="358" stroke="#f23645" stroke-width="2" stroke-dasharray="10 12" stroke-dashoffset="0.0"/><line x1="13" y1="414" x2="1719" y2="414" stroke="#f23645" stroke-width="2" stroke-dasharray="10 12" stroke-dashoffset="0.0"/><line x1="1189" y1="123" x2="1719" y2="123" stroke="#4caf50" stroke-width="2" stroke-dasharray="10 12" stroke-dashoffset="0.0"/><line x1="27" y1="366" x2="1719" y2="366" stroke="#606060" stroke-width="2" stroke-dasharray="2 4"/><line x1="984.3" y1="92.5" x2="1328" y2="92.5" stroke="#000" stroke-width="1.2"/><line x1="984.3" y1="148.5" x2="1328" y2="148.5" stroke="#000" stroke-width="1.2"/><line x1="984.3" y1="201.5" x2="1328" y2="201.5" stroke="#000" stroke-width="1.2"/><line x1="984.3" y1="233.5" x2="1328" y2="233.5" stroke="#000" stroke-width="1.2"/><line x1="984.3" y1="285.5" x2="1328" y2="285.5" stroke="#000" stroke-width="1.2"/><line x1="557.6" y1="368.1" x2="1462" y2="212.2" stroke="#000" stroke-width="2.4" stroke-linecap="round"/></g>
<rect x="14" y="436" width="1786" height="1" fill="#e0e3eb"/>
<rect x="14" y="577" width="1786" height="1" fill="#e0e3eb"/>
<rect x="14" y="646" width="1786" height="1" fill="#e0e3eb"/>
<text x="13" y="24.7" font-family="Liberation Sans, sans-serif" font-size="15.5" fill="#131722" text-anchor="start" font-weight="normal" textLength="488" lengthAdjust="spacingAndGlyphs">M_MTrades created with TradingView.com, Dec 22, 2025 10:33 UTC+5:30</text>
<text x="23" y="58.7" font-family="Liberation Sans, sans-serif" font-size="15.3" fill="#131722" text-anchor="start" font-weight="normal" textLength="231.5" lengthAdjust="spacingAndGlyphs">Monero / Tether USD · 1D · Kraken</text>
<text x="264.6" y="58.7" font-family="Liberation Sans, sans-serif" font-size="15.3" fill="#131722" text-anchor="start" font-weight="normal">O</text>
<text x="276.4" y="58.7" font-family="Liberation Sans, sans-serif" font-size="15.3" fill="#089981" text-anchor="start" font-weight="normal" textLength="43" lengthAdjust="spacingAndGlyphs">471.98</text>
<text x="328.8" y="58.7" font-family="Liberation Sans, sans-serif" font-size="15.3" fill="#131722" text-anchor="start" font-weight="normal">H</text>
<text x="338.5" y="58.7" font-family="Liberation Sans, sans-serif" font-size="15.3" fill="#089981" text-anchor="start" font-weight="normal" textLength="43.5" lengthAdjust="spacingAndGlyphs">483.79</text>
<text x="392.7" y="58.7" font-family="Liberation Sans, sans-serif" font-size="15.3" fill="#131722" text-anchor="start" font-weight="normal">L</text>
<text x="400.3" y="58.7" font-family="Liberation Sans, sans-serif" font-size="15.3" fill="#089981" text-anchor="start" font-weight="normal" textLength="43.7" lengthAdjust="spacingAndGlyphs">463.36</text>
<text x="453.5" y="58.7" font-family="Liberation Sans, sans-serif" font-size="15.3" fill="#131722" text-anchor="start" font-weight="normal">C</text>
<text x="462.5" y="58.7" font-family="Liberation Sans, sans-serif" font-size="15.3" fill="#089981" text-anchor="start" font-weight="normal" textLength="44" lengthAdjust="spacingAndGlyphs">478.02</text>
<text x="517" y="58.7" font-family="Liberation Sans, sans-serif" font-size="15.3" fill="#089981" text-anchor="start" font-weight="normal" textLength="97.2" lengthAdjust="spacingAndGlyphs">+6.72 (+1.43%)</text>
<text x="1337" y="96" font-family="Liberation Sans, sans-serif" font-size="14.4" fill="#131722" text-anchor="start" font-weight="normal" textLength="114" lengthAdjust="spacingAndGlyphs">141.40% (531.73)</text>
<text x="1337" y="153" font-family="Liberation Sans, sans-serif" font-size="14.4" fill="#131722" text-anchor="start" font-weight="normal" textLength="114" lengthAdjust="spacingAndGlyphs">100.00% (470.00)</text>
<text x="1337" y="205" font-family="Liberation Sans, sans-serif" font-size="14.4" fill="#131722" text-anchor="start" font-weight="normal" textLength="106" lengthAdjust="spacingAndGlyphs">61.80% (413.04)</text>
<text x="1337" y="237" font-family="Liberation Sans, sans-serif" font-size="14.4" fill="#131722" text-anchor="start" font-weight="normal" textLength="106" lengthAdjust="spacingAndGlyphs">38.20% (377.86)</text>
<text x="1337" y="290" font-family="Liberation Sans, sans-serif" font-size="14.4" fill="#131722" text-anchor="start" font-weight="normal" textLength="98" lengthAdjust="spacingAndGlyphs">0.00% (320.90)</text>
<text x="1632.3" y="115.3" font-family="Liberation Sans, sans-serif" font-size="14.4" fill="#4caf50" text-anchor="start" font-weight="bold" textLength="77.2" lengthAdjust="spacingAndGlyphs">yearly high</text>
<text x="1649" y="323.5" font-family="Liberation Sans, sans-serif" font-size="14.4" fill="#f23645" text-anchor="start" font-weight="normal" textLength="60.5" lengthAdjust="spacingAndGlyphs">Daily S/R</text>
<text x="1649" y="349.8" font-family="Liberation Sans, sans-serif" font-size="14.4" fill="#f23645" text-anchor="start" font-weight="normal" textLength="60.5" lengthAdjust="spacingAndGlyphs">Daily S/R</text>
<text x="1649" y="406.3" font-family="Liberation Sans, sans-serif" font-size="14.4" fill="#f23645" text-anchor="start" font-weight="normal" textLength="60.5" lengthAdjust="spacingAndGlyphs">Daily S/R</text>
<text x="1730.5" y="81.10000000000001" font-family="Liberation Sans, sans-serif" font-size="14.4" fill="#131722" text-anchor="start" font-weight="normal" textLength="44.6" lengthAdjust="spacingAndGlyphs">550.00</text>
<text x="1730.5" y="172.39999999999998" font-family="Liberation Sans, sans-serif" font-size="14.4" fill="#131722" text-anchor="start" font-weight="normal" textLength="44.6" lengthAdjust="spacingAndGlyphs">450.00</text>
<text x="1730.5" y="264.09999999999997" font-family="Liberation Sans, sans-serif" font-size="14.4" fill="#131722" text-anchor="start" font-weight="normal" textLength="44.6" lengthAdjust="spacingAndGlyphs">350.00</text>
<text x="1730.5" y="310.09999999999997" font-family="Liberation Sans, sans-serif" font-size="14.4" fill="#131722" text-anchor="start" font-weight="normal" textLength="44.6" lengthAdjust="spacingAndGlyphs">300.00</text>
<text x="1730.5" y="402.09999999999997" font-family="Liberation Sans, sans-serif" font-size="14.4" fill="#131722" text-anchor="start" font-weight="normal" textLength="44.6" lengthAdjust="spacingAndGlyphs">200.00</text>
<text x="1730.5" y="481.09999999999997" font-family="Liberation Sans, sans-serif" font-size="14.4" fill="#131722" text-anchor="start" font-weight="normal" textLength="36.5" lengthAdjust="spacingAndGlyphs">75.00</text>
<text x="1730.5" y="522.1" font-family="Liberation Sans, sans-serif" font-size="14.4" fill="#131722" text-anchor="start" font-weight="normal" textLength="36.5" lengthAdjust="spacingAndGlyphs">50.00</text>
<text x="1730.5" y="563.1" font-family="Liberation Sans, sans-serif" font-size="14.4" fill="#131722" text-anchor="start" font-weight="normal" textLength="36.5" lengthAdjust="spacingAndGlyphs">25.00</text>
<text x="1730.5" y="609.1" font-family="Liberation Sans, sans-serif" font-size="14.4" fill="#131722" text-anchor="start" font-weight="normal" textLength="25.9" lengthAdjust="spacingAndGlyphs">25K</text>
<text x="1730.5" y="715.4000000000001" font-family="Liberation Sans, sans-serif" font-size="14.4" fill="#131722" text-anchor="start" font-weight="normal" textLength="28.4" lengthAdjust="spacingAndGlyphs">0.00</text>
<rect x="1720" y="35" width="80" height="38.8" fill="#fff"/>
<rect x="1723.8" y="38.8" width="72.7" height="32.2" rx="4" fill="#fff" stroke="#e0e3eb" stroke-width="1"/>
<text x="1735.4" y="59.9" font-family="Liberation Sans, sans-serif" font-size="14.4" fill="#131722" text-anchor="start" font-weight="normal" textLength="32.6" lengthAdjust="spacingAndGlyphs">USDT</text>
<path d="M1720,110.3 H1780.0 Q1782.0,110.3 1782.0,112.3 V128.8 Q1782.0,130.8 1780.0,130.8 H1720 Z" fill="#4caf50"/><text x="1730.5" y="125.75000000000001" font-family="Liberation Sans, sans-serif" font-size="14.4" fill="#fff" text-anchor="start" font-weight="normal" textLength="44.6" lengthAdjust="spacingAndGlyphs">497.70</text>
<path d="M1720,186.0 H1780.0 Q1782.0,186.0 1782.0,188.0 V205.0 Q1782.0,207.0 1780.0,207.0 H1720 Z" fill="#f23645"/><text x="1730.5" y="201.7" font-family="Liberation Sans, sans-serif" font-size="14.4" fill="#fff" text-anchor="start" font-weight="normal" textLength="44.6" lengthAdjust="spacingAndGlyphs">418.01</text>
<path d="M1720,207.0 H1780.0 Q1782.0,207.0 1782.0,209.0 V225.6 Q1782.0,227.6 1780.0,227.6 H1720 Z" fill="#ff0000"/><text x="1730.5" y="222.5" font-family="Liberation Sans, sans-serif" font-size="14.4" fill="#fff" text-anchor="start" font-weight="normal" textLength="44.6" lengthAdjust="spacingAndGlyphs">396.54</text>
<path d="M1720,314.2 H1780.0 Q1782.0,314.2 1782.0,316.2 V333.0 Q1782.0,335.0 1780.0,335.0 H1720 Z" fill="#f23645"/><text x="1730.5" y="329.8" font-family="Liberation Sans, sans-serif" font-size="14.4" fill="#fff" text-anchor="start" font-weight="normal" textLength="44.6" lengthAdjust="spacingAndGlyphs">278.75</text>
<path d="M1720,335.0 H1780.0 Q1782.0,335.0 1782.0,337.0 V353.7 Q1782.0,355.7 1780.0,355.7 H1720 Z" fill="#f23645"/><text x="1730.5" y="350.55" font-family="Liberation Sans, sans-serif" font-size="14.4" fill="#fff" text-anchor="start" font-weight="normal" textLength="44.6" lengthAdjust="spacingAndGlyphs">271.34</text>
<path d="M1720,355.7 H1780.0 Q1782.0,355.7 1782.0,357.7 V374.4 Q1782.0,376.4 1780.0,376.4 H1720 Z" fill="#f23645"/><text x="1730.5" y="371.24999999999994" font-family="Liberation Sans, sans-serif" font-size="14.4" fill="#fff" text-anchor="start" font-weight="normal" textLength="44.6" lengthAdjust="spacingAndGlyphs">241.95</text>
<path d="M1720,378.3 H1780.0 Q1782.0,378.3 1782.0,380.3 V396.4 Q1782.0,398.4 1780.0,398.4 H1720 Z" fill="#808080"/><text x="1730.5" y="393.55" font-family="Liberation Sans, sans-serif" font-size="14.4" fill="#fff" text-anchor="start" font-weight="normal" textLength="44.6" lengthAdjust="spacingAndGlyphs">233.02</text>
<path d="M1720,404.0 H1780.0 Q1782.0,404.0 1782.0,406.0 V422.4 Q1782.0,424.4 1780.0,424.4 H1720 Z" fill="#f23645"/><text x="1730.5" y="419.4" font-family="Liberation Sans, sans-serif" font-size="14.4" fill="#fff" text-anchor="start" font-weight="normal" textLength="44.6" lengthAdjust="spacingAndGlyphs">180.79</text>
<path d="M1720,130.8 H1793.3 Q1795.3,130.8 1795.3,132.8 V167.5 Q1795.3,169.5 1793.3,169.5 H1720 Z" fill="#089981"/><text x="1730.5" y="146.4" font-family="Liberation Sans, sans-serif" font-size="14.4" fill="#fff" text-anchor="start" font-weight="normal" textLength="44.6" lengthAdjust="spacingAndGlyphs">478.02</text><text x="1731.5" y="164.70000000000002" font-family="Liberation Sans, sans-serif" font-size="14.4" fill="#fff" text-anchor="start" font-weight="normal" textLength="57.5" lengthAdjust="spacingAndGlyphs" fill-opacity="0.75">18:56:40</text>
<path d="M1720,473.8 H1772.0 Q1774.0,473.8 1774.0,475.8 V493.0 Q1774.0,495.0 1772.0,495.0 H1720 Z" fill="#7e57c2"/><text x="1730.5" y="489.59999999999997" font-family="Liberation Sans, sans-serif" font-size="14.4" fill="#fff" text-anchor="start" font-weight="normal" textLength="36.5" lengthAdjust="spacingAndGlyphs">69.24</text>
<path d="M1720,495.0 H1772.0 Q1774.0,495.0 1774.0,497.0 V514.0 Q1774.0,516.0 1772.0,516.0 H1720 Z" fill="#fdd835"/><text x="1730.5" y="510.7" font-family="Liberation Sans, sans-serif" font-size="14.4" fill="#131722" text-anchor="start" font-weight="normal" textLength="36.5" lengthAdjust="spacingAndGlyphs">59.12</text>
<g clip-path="url(#cpAx)"><path d="M1720,641.2 H1772.0 Q1774.0,641.2 1774.0,643.2 V659.9 Q1774.0,661.9 1772.0,661.9 H1720 Z" fill="#2962ff"/><text x="1730.5" y="656.75" font-family="Liberation Sans, sans-serif" font-size="14.4" fill="#fff" text-anchor="start" font-weight="normal" textLength="36.5" lengthAdjust="spacingAndGlyphs">20.05</text></g>
<path d="M1720,661.9 H1772.0 Q1774.0,661.9 1774.0,663.9 V681.0 Q1774.0,683.0 1772.0,683.0 H1720 Z" fill="#ff6d00"/><text x="1730.5" y="677.6500000000001" font-family="Liberation Sans, sans-serif" font-size="14.4" fill="#fff" text-anchor="start" font-weight="normal" textLength="36.5" lengthAdjust="spacingAndGlyphs">13.03</text>
<path d="M1720,683.0 H1764.5 Q1766.5,683.0 1766.5,685.0 V701.9 Q1766.5,703.9 1764.5,703.9 H1720 Z" fill="#26a69a"/><text x="1730.5" y="698.6500000000001" font-family="Liberation Sans, sans-serif" font-size="14.4" fill="#fff" text-anchor="start" font-weight="normal" textLength="28.4" lengthAdjust="spacingAndGlyphs">7.02</text>
<path d="M1720,625.0 H1775.6 Q1777.6,625.0 1777.6,627.0 V643.7 Q1777.6,645.7 1775.6,645.7 H1720 Z" fill="#26a69a"/><text x="1730.5" y="640.5500000000001" font-family="Liberation Sans, sans-serif" font-size="14.4" fill="#fff" text-anchor="start" font-weight="normal" textLength="38.1" lengthAdjust="spacingAndGlyphs">2.06K</text>
<text x="32.5" y="780.3" font-family="Liberation Sans, sans-serif" font-size="14.4" fill="#131722" text-anchor="middle" font-weight="normal">May</text>
<text x="186.5" y="780.3" font-family="Liberation Sans, sans-serif" font-size="14.4" fill="#131722" text-anchor="middle" font-weight="normal">Jun</text>
<text x="335.5" y="780.3" font-family="Liberation Sans, sans-serif" font-size="14.4" fill="#131722" text-anchor="middle" font-weight="normal">Jul</text>
<text x="489.5" y="780.3" font-family="Liberation Sans, sans-serif" font-size="14.4" fill="#131722" text-anchor="middle" font-weight="normal">Aug</text>
<text x="643.5" y="780.3" font-family="Liberation Sans, sans-serif" font-size="14.4" fill="#131722" text-anchor="middle" font-weight="normal">Sep</text>
<text x="792.5" y="780.3" font-family="Liberation Sans, sans-serif" font-size="14.4" fill="#131722" text-anchor="middle" font-weight="normal">Oct</text>
<text x="945.5" y="780.3" font-family="Liberation Sans, sans-serif" font-size="14.4" fill="#131722" text-anchor="middle" font-weight="normal">Nov</text>
<text x="1094.5" y="780.3" font-family="Liberation Sans, sans-serif" font-size="14.4" fill="#131722" text-anchor="middle" font-weight="normal">Dec</text>
<text x="1248.5" y="780.3" font-family="Liberation Sans, sans-serif" font-size="14.4" fill="#131722" text-anchor="middle" font-weight="bold">2026</text>
<text x="1402.5" y="780.3" font-family="Liberation Sans, sans-serif" font-size="14.4" fill="#131722" text-anchor="middle" font-weight="normal">Feb</text>
<text x="1541.5" y="780.3" font-family="Liberation Sans, sans-serif" font-size="14.4" fill="#131722" text-anchor="middle" font-weight="normal">Mar</text>
<text x="1695.5" y="780.3" font-family="Liberation Sans, sans-serif" font-size="14.4" fill="#131722" text-anchor="middle" font-weight="normal">Apr</text>
<g transform="translate(15.5,815.6) scale(1.035)" fill="#111"><path d="M14 22H7V11H0V4h14v18zM28 22h-8l7.5-18h8L28 22z"/><circle cx="20" cy="8" r="4"/></g>
<text x="62" y="837.9" font-family="Liberation Sans, sans-serif" font-size="25" fill="#111" text-anchor="start" font-weight="bold" textLength="151" lengthAdjust="spacingAndGlyphs" stroke="#111" stroke-width="0.7">TradingView</text>
</svg></body></html>
